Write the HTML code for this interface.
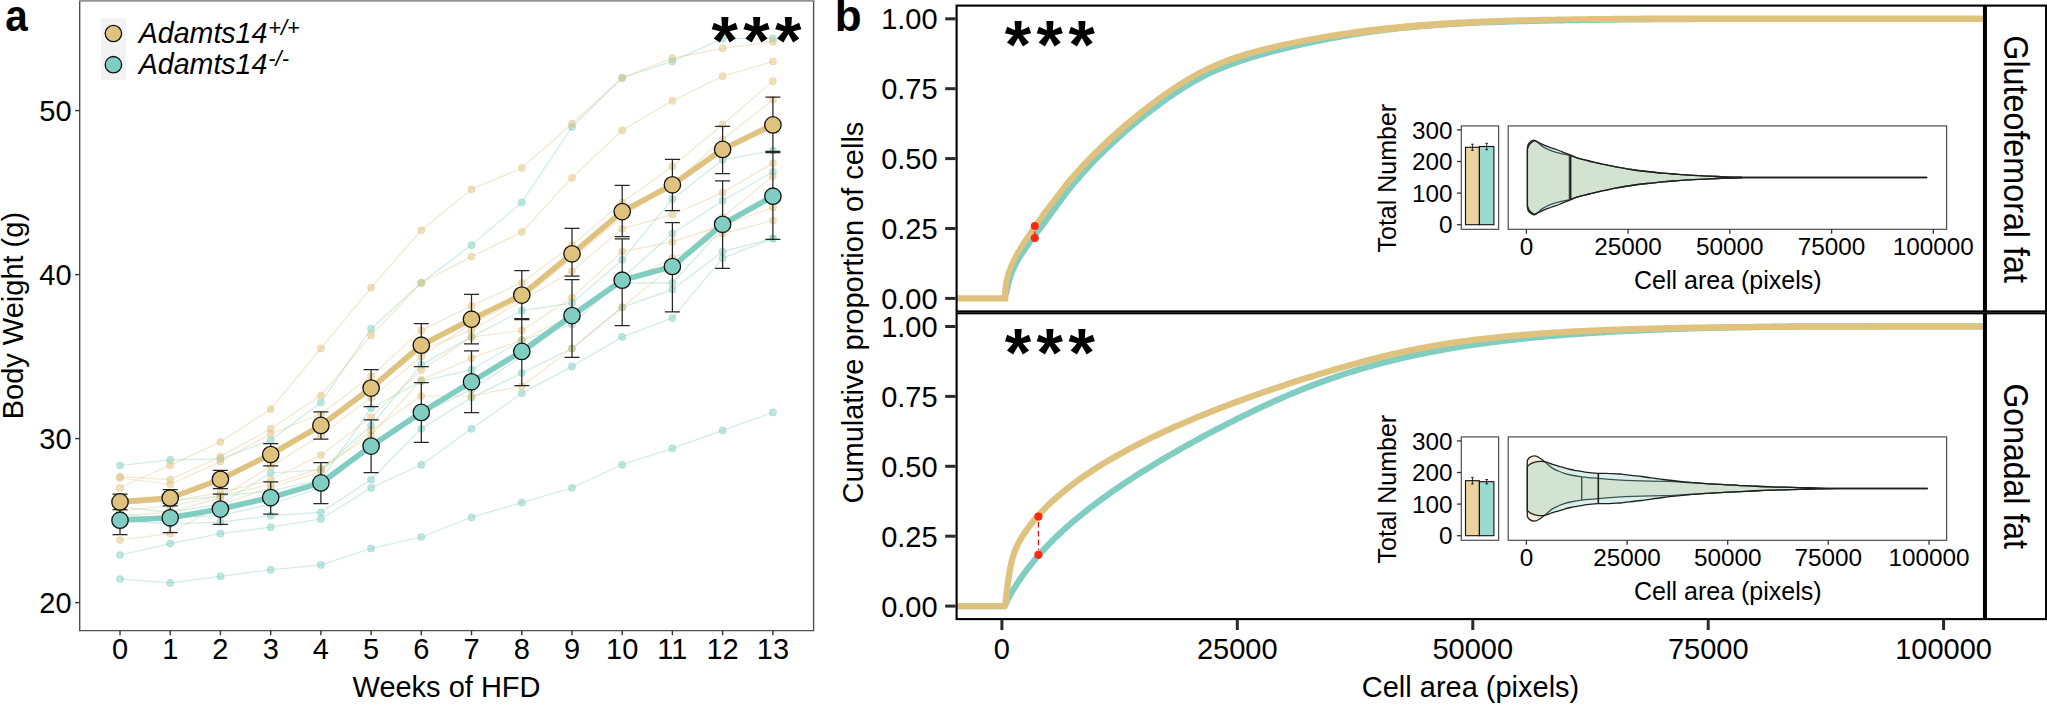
<!DOCTYPE html>
<html lang="en"><head><meta charset="utf-8"><title>Figure</title>
<style>html,body{margin:0;padding:0;background:#fff;}body{width:2047px;height:705px;overflow:hidden;}svg{display:block;}</style>
</head><body>
<svg width="2047" height="705" viewBox="0 0 2047 705" font-family="'Liberation Sans', sans-serif">
<rect width="2047" height="705" fill="#fff"/>
<g id="panelA">
<path d="M79.7,0V630.6H813.6V0" fill="none" stroke="#505050" stroke-width="1.4"/>
<rect x="79" y="0" width="735.3" height="1.75" fill="#959595"/>
<path d="M120.0,465.5 L170.2,459.9 L220.4,458.8 L270.7,440.2 L320.9,402.5 L371.1,328.7 L421.3,282.8 L471.5,245.1 L521.8,202.4 L572.0,127.0 L622.2,77.8 L672.4,61.4 L722.6,38.4 L772.9,38.4" fill="none" stroke="#80CDC1" stroke-opacity="0.38" stroke-width="1.2"/>
<circle cx="120.0" cy="465.5" r="3.6" fill="#80CDC1" fill-opacity="0.5" stroke="#80CDC1" stroke-opacity="0.4" stroke-width="0.9"/>
<circle cx="170.2" cy="459.9" r="3.6" fill="#80CDC1" fill-opacity="0.5" stroke="#80CDC1" stroke-opacity="0.4" stroke-width="0.9"/>
<circle cx="220.4" cy="458.8" r="3.6" fill="#80CDC1" fill-opacity="0.5" stroke="#80CDC1" stroke-opacity="0.4" stroke-width="0.9"/>
<circle cx="270.7" cy="440.2" r="3.6" fill="#80CDC1" fill-opacity="0.5" stroke="#80CDC1" stroke-opacity="0.4" stroke-width="0.9"/>
<circle cx="320.9" cy="402.5" r="3.6" fill="#80CDC1" fill-opacity="0.5" stroke="#80CDC1" stroke-opacity="0.4" stroke-width="0.9"/>
<circle cx="371.1" cy="328.7" r="3.6" fill="#80CDC1" fill-opacity="0.5" stroke="#80CDC1" stroke-opacity="0.4" stroke-width="0.9"/>
<circle cx="421.3" cy="282.8" r="3.6" fill="#80CDC1" fill-opacity="0.5" stroke="#80CDC1" stroke-opacity="0.4" stroke-width="0.9"/>
<circle cx="471.5" cy="245.1" r="3.6" fill="#80CDC1" fill-opacity="0.5" stroke="#80CDC1" stroke-opacity="0.4" stroke-width="0.9"/>
<circle cx="521.8" cy="202.4" r="3.6" fill="#80CDC1" fill-opacity="0.5" stroke="#80CDC1" stroke-opacity="0.4" stroke-width="0.9"/>
<circle cx="572.0" cy="127.0" r="3.6" fill="#80CDC1" fill-opacity="0.5" stroke="#80CDC1" stroke-opacity="0.4" stroke-width="0.9"/>
<circle cx="622.2" cy="77.8" r="3.6" fill="#80CDC1" fill-opacity="0.5" stroke="#80CDC1" stroke-opacity="0.4" stroke-width="0.9"/>
<circle cx="672.4" cy="61.4" r="3.6" fill="#80CDC1" fill-opacity="0.5" stroke="#80CDC1" stroke-opacity="0.4" stroke-width="0.9"/>
<circle cx="722.6" cy="38.4" r="3.6" fill="#80CDC1" fill-opacity="0.5" stroke="#80CDC1" stroke-opacity="0.4" stroke-width="0.9"/>
<circle cx="772.9" cy="38.4" r="3.6" fill="#80CDC1" fill-opacity="0.5" stroke="#80CDC1" stroke-opacity="0.4" stroke-width="0.9"/>
<path d="M120.0,507.0 L170.2,512.4 L220.4,504.2 L270.7,473.0 L320.9,469.8 L371.1,425.5 L421.3,364.8 L471.5,336.9 L521.8,310.7 L572.0,303.1 L622.2,259.8 L672.4,199.2 L722.6,159.8 L772.9,150.5" fill="none" stroke="#80CDC1" stroke-opacity="0.38" stroke-width="1.2"/>
<circle cx="120.0" cy="507.0" r="3.6" fill="#80CDC1" fill-opacity="0.5" stroke="#80CDC1" stroke-opacity="0.4" stroke-width="0.9"/>
<circle cx="170.2" cy="512.4" r="3.6" fill="#80CDC1" fill-opacity="0.5" stroke="#80CDC1" stroke-opacity="0.4" stroke-width="0.9"/>
<circle cx="220.4" cy="504.2" r="3.6" fill="#80CDC1" fill-opacity="0.5" stroke="#80CDC1" stroke-opacity="0.4" stroke-width="0.9"/>
<circle cx="270.7" cy="473.0" r="3.6" fill="#80CDC1" fill-opacity="0.5" stroke="#80CDC1" stroke-opacity="0.4" stroke-width="0.9"/>
<circle cx="320.9" cy="469.8" r="3.6" fill="#80CDC1" fill-opacity="0.5" stroke="#80CDC1" stroke-opacity="0.4" stroke-width="0.9"/>
<circle cx="371.1" cy="425.5" r="3.6" fill="#80CDC1" fill-opacity="0.5" stroke="#80CDC1" stroke-opacity="0.4" stroke-width="0.9"/>
<circle cx="421.3" cy="364.8" r="3.6" fill="#80CDC1" fill-opacity="0.5" stroke="#80CDC1" stroke-opacity="0.4" stroke-width="0.9"/>
<circle cx="471.5" cy="336.9" r="3.6" fill="#80CDC1" fill-opacity="0.5" stroke="#80CDC1" stroke-opacity="0.4" stroke-width="0.9"/>
<circle cx="521.8" cy="310.7" r="3.6" fill="#80CDC1" fill-opacity="0.5" stroke="#80CDC1" stroke-opacity="0.4" stroke-width="0.9"/>
<circle cx="572.0" cy="303.1" r="3.6" fill="#80CDC1" fill-opacity="0.5" stroke="#80CDC1" stroke-opacity="0.4" stroke-width="0.9"/>
<circle cx="622.2" cy="259.8" r="3.6" fill="#80CDC1" fill-opacity="0.5" stroke="#80CDC1" stroke-opacity="0.4" stroke-width="0.9"/>
<circle cx="672.4" cy="199.2" r="3.6" fill="#80CDC1" fill-opacity="0.5" stroke="#80CDC1" stroke-opacity="0.4" stroke-width="0.9"/>
<circle cx="722.6" cy="159.8" r="3.6" fill="#80CDC1" fill-opacity="0.5" stroke="#80CDC1" stroke-opacity="0.4" stroke-width="0.9"/>
<circle cx="772.9" cy="150.5" r="3.6" fill="#80CDC1" fill-opacity="0.5" stroke="#80CDC1" stroke-opacity="0.4" stroke-width="0.9"/>
<path d="M120.0,504.2 L170.2,500.9 L220.4,496.0 L270.7,491.1 L320.9,479.6 L371.1,408.3 L421.3,381.2 L471.5,369.7 L521.8,340.2 L572.0,324.5 L622.2,277.9 L672.4,233.6 L722.6,200.8 L772.9,171.8" fill="none" stroke="#80CDC1" stroke-opacity="0.38" stroke-width="1.2"/>
<circle cx="120.0" cy="504.2" r="3.6" fill="#80CDC1" fill-opacity="0.5" stroke="#80CDC1" stroke-opacity="0.4" stroke-width="0.9"/>
<circle cx="170.2" cy="500.9" r="3.6" fill="#80CDC1" fill-opacity="0.5" stroke="#80CDC1" stroke-opacity="0.4" stroke-width="0.9"/>
<circle cx="220.4" cy="496.0" r="3.6" fill="#80CDC1" fill-opacity="0.5" stroke="#80CDC1" stroke-opacity="0.4" stroke-width="0.9"/>
<circle cx="270.7" cy="491.1" r="3.6" fill="#80CDC1" fill-opacity="0.5" stroke="#80CDC1" stroke-opacity="0.4" stroke-width="0.9"/>
<circle cx="320.9" cy="479.6" r="3.6" fill="#80CDC1" fill-opacity="0.5" stroke="#80CDC1" stroke-opacity="0.4" stroke-width="0.9"/>
<circle cx="371.1" cy="408.3" r="3.6" fill="#80CDC1" fill-opacity="0.5" stroke="#80CDC1" stroke-opacity="0.4" stroke-width="0.9"/>
<circle cx="421.3" cy="381.2" r="3.6" fill="#80CDC1" fill-opacity="0.5" stroke="#80CDC1" stroke-opacity="0.4" stroke-width="0.9"/>
<circle cx="471.5" cy="369.7" r="3.6" fill="#80CDC1" fill-opacity="0.5" stroke="#80CDC1" stroke-opacity="0.4" stroke-width="0.9"/>
<circle cx="521.8" cy="340.2" r="3.6" fill="#80CDC1" fill-opacity="0.5" stroke="#80CDC1" stroke-opacity="0.4" stroke-width="0.9"/>
<circle cx="572.0" cy="324.5" r="3.6" fill="#80CDC1" fill-opacity="0.5" stroke="#80CDC1" stroke-opacity="0.4" stroke-width="0.9"/>
<circle cx="622.2" cy="277.9" r="3.6" fill="#80CDC1" fill-opacity="0.5" stroke="#80CDC1" stroke-opacity="0.4" stroke-width="0.9"/>
<circle cx="672.4" cy="233.6" r="3.6" fill="#80CDC1" fill-opacity="0.5" stroke="#80CDC1" stroke-opacity="0.4" stroke-width="0.9"/>
<circle cx="722.6" cy="200.8" r="3.6" fill="#80CDC1" fill-opacity="0.5" stroke="#80CDC1" stroke-opacity="0.4" stroke-width="0.9"/>
<circle cx="772.9" cy="171.8" r="3.6" fill="#80CDC1" fill-opacity="0.5" stroke="#80CDC1" stroke-opacity="0.4" stroke-width="0.9"/>
<path d="M120.0,515.7 L170.2,517.3 L220.4,515.7 L270.7,504.2 L320.9,487.8 L371.1,446.8 L421.3,414.0 L471.5,389.4 L521.8,356.6 L572.0,315.6 L622.2,282.8 L672.4,282.8 L722.6,228.7 L772.9,192.6" fill="none" stroke="#80CDC1" stroke-opacity="0.38" stroke-width="1.2"/>
<circle cx="120.0" cy="515.7" r="3.6" fill="#80CDC1" fill-opacity="0.5" stroke="#80CDC1" stroke-opacity="0.4" stroke-width="0.9"/>
<circle cx="170.2" cy="517.3" r="3.6" fill="#80CDC1" fill-opacity="0.5" stroke="#80CDC1" stroke-opacity="0.4" stroke-width="0.9"/>
<circle cx="220.4" cy="515.7" r="3.6" fill="#80CDC1" fill-opacity="0.5" stroke="#80CDC1" stroke-opacity="0.4" stroke-width="0.9"/>
<circle cx="270.7" cy="504.2" r="3.6" fill="#80CDC1" fill-opacity="0.5" stroke="#80CDC1" stroke-opacity="0.4" stroke-width="0.9"/>
<circle cx="320.9" cy="487.8" r="3.6" fill="#80CDC1" fill-opacity="0.5" stroke="#80CDC1" stroke-opacity="0.4" stroke-width="0.9"/>
<circle cx="371.1" cy="446.8" r="3.6" fill="#80CDC1" fill-opacity="0.5" stroke="#80CDC1" stroke-opacity="0.4" stroke-width="0.9"/>
<circle cx="421.3" cy="414.0" r="3.6" fill="#80CDC1" fill-opacity="0.5" stroke="#80CDC1" stroke-opacity="0.4" stroke-width="0.9"/>
<circle cx="471.5" cy="389.4" r="3.6" fill="#80CDC1" fill-opacity="0.5" stroke="#80CDC1" stroke-opacity="0.4" stroke-width="0.9"/>
<circle cx="521.8" cy="356.6" r="3.6" fill="#80CDC1" fill-opacity="0.5" stroke="#80CDC1" stroke-opacity="0.4" stroke-width="0.9"/>
<circle cx="572.0" cy="315.6" r="3.6" fill="#80CDC1" fill-opacity="0.5" stroke="#80CDC1" stroke-opacity="0.4" stroke-width="0.9"/>
<circle cx="622.2" cy="282.8" r="3.6" fill="#80CDC1" fill-opacity="0.5" stroke="#80CDC1" stroke-opacity="0.4" stroke-width="0.9"/>
<circle cx="672.4" cy="282.8" r="3.6" fill="#80CDC1" fill-opacity="0.5" stroke="#80CDC1" stroke-opacity="0.4" stroke-width="0.9"/>
<circle cx="722.6" cy="228.7" r="3.6" fill="#80CDC1" fill-opacity="0.5" stroke="#80CDC1" stroke-opacity="0.4" stroke-width="0.9"/>
<circle cx="772.9" cy="192.6" r="3.6" fill="#80CDC1" fill-opacity="0.5" stroke="#80CDC1" stroke-opacity="0.4" stroke-width="0.9"/>
<path d="M120.0,520.6 L170.2,523.9 L220.4,522.2 L270.7,515.7 L320.9,512.4 L371.1,479.6 L421.3,428.8 L471.5,397.6 L521.8,373.0 L572.0,348.4 L622.2,307.4 L672.4,289.4 L722.6,251.6 L772.9,238.5" fill="none" stroke="#80CDC1" stroke-opacity="0.38" stroke-width="1.2"/>
<circle cx="120.0" cy="520.6" r="3.6" fill="#80CDC1" fill-opacity="0.5" stroke="#80CDC1" stroke-opacity="0.4" stroke-width="0.9"/>
<circle cx="170.2" cy="523.9" r="3.6" fill="#80CDC1" fill-opacity="0.5" stroke="#80CDC1" stroke-opacity="0.4" stroke-width="0.9"/>
<circle cx="220.4" cy="522.2" r="3.6" fill="#80CDC1" fill-opacity="0.5" stroke="#80CDC1" stroke-opacity="0.4" stroke-width="0.9"/>
<circle cx="270.7" cy="515.7" r="3.6" fill="#80CDC1" fill-opacity="0.5" stroke="#80CDC1" stroke-opacity="0.4" stroke-width="0.9"/>
<circle cx="320.9" cy="512.4" r="3.6" fill="#80CDC1" fill-opacity="0.5" stroke="#80CDC1" stroke-opacity="0.4" stroke-width="0.9"/>
<circle cx="371.1" cy="479.6" r="3.6" fill="#80CDC1" fill-opacity="0.5" stroke="#80CDC1" stroke-opacity="0.4" stroke-width="0.9"/>
<circle cx="421.3" cy="428.8" r="3.6" fill="#80CDC1" fill-opacity="0.5" stroke="#80CDC1" stroke-opacity="0.4" stroke-width="0.9"/>
<circle cx="471.5" cy="397.6" r="3.6" fill="#80CDC1" fill-opacity="0.5" stroke="#80CDC1" stroke-opacity="0.4" stroke-width="0.9"/>
<circle cx="521.8" cy="373.0" r="3.6" fill="#80CDC1" fill-opacity="0.5" stroke="#80CDC1" stroke-opacity="0.4" stroke-width="0.9"/>
<circle cx="572.0" cy="348.4" r="3.6" fill="#80CDC1" fill-opacity="0.5" stroke="#80CDC1" stroke-opacity="0.4" stroke-width="0.9"/>
<circle cx="622.2" cy="307.4" r="3.6" fill="#80CDC1" fill-opacity="0.5" stroke="#80CDC1" stroke-opacity="0.4" stroke-width="0.9"/>
<circle cx="672.4" cy="289.4" r="3.6" fill="#80CDC1" fill-opacity="0.5" stroke="#80CDC1" stroke-opacity="0.4" stroke-width="0.9"/>
<circle cx="722.6" cy="251.6" r="3.6" fill="#80CDC1" fill-opacity="0.5" stroke="#80CDC1" stroke-opacity="0.4" stroke-width="0.9"/>
<circle cx="772.9" cy="238.5" r="3.6" fill="#80CDC1" fill-opacity="0.5" stroke="#80CDC1" stroke-opacity="0.4" stroke-width="0.9"/>
<path d="M120.0,555.0 L170.2,543.6 L220.4,533.7 L270.7,527.2 L320.9,519.0 L371.1,487.8 L421.3,464.8 L471.5,428.8 L521.8,393.2 L572.0,366.4 L622.2,336.9 L672.4,318.1 L722.6,258.2 L772.9,238.5" fill="none" stroke="#80CDC1" stroke-opacity="0.38" stroke-width="1.2"/>
<circle cx="120.0" cy="555.0" r="3.6" fill="#80CDC1" fill-opacity="0.5" stroke="#80CDC1" stroke-opacity="0.4" stroke-width="0.9"/>
<circle cx="170.2" cy="543.6" r="3.6" fill="#80CDC1" fill-opacity="0.5" stroke="#80CDC1" stroke-opacity="0.4" stroke-width="0.9"/>
<circle cx="220.4" cy="533.7" r="3.6" fill="#80CDC1" fill-opacity="0.5" stroke="#80CDC1" stroke-opacity="0.4" stroke-width="0.9"/>
<circle cx="270.7" cy="527.2" r="3.6" fill="#80CDC1" fill-opacity="0.5" stroke="#80CDC1" stroke-opacity="0.4" stroke-width="0.9"/>
<circle cx="320.9" cy="519.0" r="3.6" fill="#80CDC1" fill-opacity="0.5" stroke="#80CDC1" stroke-opacity="0.4" stroke-width="0.9"/>
<circle cx="371.1" cy="487.8" r="3.6" fill="#80CDC1" fill-opacity="0.5" stroke="#80CDC1" stroke-opacity="0.4" stroke-width="0.9"/>
<circle cx="421.3" cy="464.8" r="3.6" fill="#80CDC1" fill-opacity="0.5" stroke="#80CDC1" stroke-opacity="0.4" stroke-width="0.9"/>
<circle cx="471.5" cy="428.8" r="3.6" fill="#80CDC1" fill-opacity="0.5" stroke="#80CDC1" stroke-opacity="0.4" stroke-width="0.9"/>
<circle cx="521.8" cy="393.2" r="3.6" fill="#80CDC1" fill-opacity="0.5" stroke="#80CDC1" stroke-opacity="0.4" stroke-width="0.9"/>
<circle cx="572.0" cy="366.4" r="3.6" fill="#80CDC1" fill-opacity="0.5" stroke="#80CDC1" stroke-opacity="0.4" stroke-width="0.9"/>
<circle cx="622.2" cy="336.9" r="3.6" fill="#80CDC1" fill-opacity="0.5" stroke="#80CDC1" stroke-opacity="0.4" stroke-width="0.9"/>
<circle cx="672.4" cy="318.1" r="3.6" fill="#80CDC1" fill-opacity="0.5" stroke="#80CDC1" stroke-opacity="0.4" stroke-width="0.9"/>
<circle cx="722.6" cy="258.2" r="3.6" fill="#80CDC1" fill-opacity="0.5" stroke="#80CDC1" stroke-opacity="0.4" stroke-width="0.9"/>
<circle cx="772.9" cy="238.5" r="3.6" fill="#80CDC1" fill-opacity="0.5" stroke="#80CDC1" stroke-opacity="0.4" stroke-width="0.9"/>
<path d="M120.0,579.0 L170.2,582.9 L220.4,576.4 L270.7,569.8 L320.9,564.9 L371.1,548.5 L421.3,537.0 L471.5,517.3 L521.8,502.6 L572.0,487.8 L622.2,464.8 L672.4,448.4 L722.6,430.4 L772.9,412.4" fill="none" stroke="#80CDC1" stroke-opacity="0.38" stroke-width="1.2"/>
<circle cx="120.0" cy="579.0" r="3.6" fill="#80CDC1" fill-opacity="0.5" stroke="#80CDC1" stroke-opacity="0.4" stroke-width="0.9"/>
<circle cx="170.2" cy="582.9" r="3.6" fill="#80CDC1" fill-opacity="0.5" stroke="#80CDC1" stroke-opacity="0.4" stroke-width="0.9"/>
<circle cx="220.4" cy="576.4" r="3.6" fill="#80CDC1" fill-opacity="0.5" stroke="#80CDC1" stroke-opacity="0.4" stroke-width="0.9"/>
<circle cx="270.7" cy="569.8" r="3.6" fill="#80CDC1" fill-opacity="0.5" stroke="#80CDC1" stroke-opacity="0.4" stroke-width="0.9"/>
<circle cx="320.9" cy="564.9" r="3.6" fill="#80CDC1" fill-opacity="0.5" stroke="#80CDC1" stroke-opacity="0.4" stroke-width="0.9"/>
<circle cx="371.1" cy="548.5" r="3.6" fill="#80CDC1" fill-opacity="0.5" stroke="#80CDC1" stroke-opacity="0.4" stroke-width="0.9"/>
<circle cx="421.3" cy="537.0" r="3.6" fill="#80CDC1" fill-opacity="0.5" stroke="#80CDC1" stroke-opacity="0.4" stroke-width="0.9"/>
<circle cx="471.5" cy="517.3" r="3.6" fill="#80CDC1" fill-opacity="0.5" stroke="#80CDC1" stroke-opacity="0.4" stroke-width="0.9"/>
<circle cx="521.8" cy="502.6" r="3.6" fill="#80CDC1" fill-opacity="0.5" stroke="#80CDC1" stroke-opacity="0.4" stroke-width="0.9"/>
<circle cx="572.0" cy="487.8" r="3.6" fill="#80CDC1" fill-opacity="0.5" stroke="#80CDC1" stroke-opacity="0.4" stroke-width="0.9"/>
<circle cx="622.2" cy="464.8" r="3.6" fill="#80CDC1" fill-opacity="0.5" stroke="#80CDC1" stroke-opacity="0.4" stroke-width="0.9"/>
<circle cx="672.4" cy="448.4" r="3.6" fill="#80CDC1" fill-opacity="0.5" stroke="#80CDC1" stroke-opacity="0.4" stroke-width="0.9"/>
<circle cx="722.6" cy="430.4" r="3.6" fill="#80CDC1" fill-opacity="0.5" stroke="#80CDC1" stroke-opacity="0.4" stroke-width="0.9"/>
<circle cx="772.9" cy="412.4" r="3.6" fill="#80CDC1" fill-opacity="0.5" stroke="#80CDC1" stroke-opacity="0.4" stroke-width="0.9"/>
<path d="M120.0,487.8 L170.2,465.2 L220.4,441.9 L270.7,409.2 L320.9,348.4 L371.1,287.7 L421.3,230.3 L471.5,189.3 L521.8,168.0 L572.0,123.7 L622.2,77.8 L672.4,58.1 L722.6,48.3 L772.9,41.7" fill="none" stroke="#DFC27D" stroke-opacity="0.38" stroke-width="1.2"/>
<circle cx="120.0" cy="487.8" r="3.6" fill="#DFC27D" fill-opacity="0.5" stroke="#DFC27D" stroke-opacity="0.4" stroke-width="0.9"/>
<circle cx="170.2" cy="465.2" r="3.6" fill="#DFC27D" fill-opacity="0.5" stroke="#DFC27D" stroke-opacity="0.4" stroke-width="0.9"/>
<circle cx="220.4" cy="441.9" r="3.6" fill="#DFC27D" fill-opacity="0.5" stroke="#DFC27D" stroke-opacity="0.4" stroke-width="0.9"/>
<circle cx="270.7" cy="409.2" r="3.6" fill="#DFC27D" fill-opacity="0.5" stroke="#DFC27D" stroke-opacity="0.4" stroke-width="0.9"/>
<circle cx="320.9" cy="348.4" r="3.6" fill="#DFC27D" fill-opacity="0.5" stroke="#DFC27D" stroke-opacity="0.4" stroke-width="0.9"/>
<circle cx="371.1" cy="287.7" r="3.6" fill="#DFC27D" fill-opacity="0.5" stroke="#DFC27D" stroke-opacity="0.4" stroke-width="0.9"/>
<circle cx="421.3" cy="230.3" r="3.6" fill="#DFC27D" fill-opacity="0.5" stroke="#DFC27D" stroke-opacity="0.4" stroke-width="0.9"/>
<circle cx="471.5" cy="189.3" r="3.6" fill="#DFC27D" fill-opacity="0.5" stroke="#DFC27D" stroke-opacity="0.4" stroke-width="0.9"/>
<circle cx="521.8" cy="168.0" r="3.6" fill="#DFC27D" fill-opacity="0.5" stroke="#DFC27D" stroke-opacity="0.4" stroke-width="0.9"/>
<circle cx="572.0" cy="123.7" r="3.6" fill="#DFC27D" fill-opacity="0.5" stroke="#DFC27D" stroke-opacity="0.4" stroke-width="0.9"/>
<circle cx="622.2" cy="77.8" r="3.6" fill="#DFC27D" fill-opacity="0.5" stroke="#DFC27D" stroke-opacity="0.4" stroke-width="0.9"/>
<circle cx="672.4" cy="58.1" r="3.6" fill="#DFC27D" fill-opacity="0.5" stroke="#DFC27D" stroke-opacity="0.4" stroke-width="0.9"/>
<circle cx="722.6" cy="48.3" r="3.6" fill="#DFC27D" fill-opacity="0.5" stroke="#DFC27D" stroke-opacity="0.4" stroke-width="0.9"/>
<circle cx="772.9" cy="41.7" r="3.6" fill="#DFC27D" fill-opacity="0.5" stroke="#DFC27D" stroke-opacity="0.4" stroke-width="0.9"/>
<path d="M120.0,476.6 L170.2,479.6 L220.4,456.6 L270.7,428.6 L320.9,395.5 L371.1,335.3 L421.3,282.8 L471.5,256.6 L521.8,232.0 L572.0,177.8 L622.2,130.3 L672.4,100.8 L722.6,76.2 L772.9,61.4" fill="none" stroke="#DFC27D" stroke-opacity="0.38" stroke-width="1.2"/>
<circle cx="120.0" cy="476.6" r="3.6" fill="#DFC27D" fill-opacity="0.5" stroke="#DFC27D" stroke-opacity="0.4" stroke-width="0.9"/>
<circle cx="170.2" cy="479.6" r="3.6" fill="#DFC27D" fill-opacity="0.5" stroke="#DFC27D" stroke-opacity="0.4" stroke-width="0.9"/>
<circle cx="220.4" cy="456.6" r="3.6" fill="#DFC27D" fill-opacity="0.5" stroke="#DFC27D" stroke-opacity="0.4" stroke-width="0.9"/>
<circle cx="270.7" cy="428.6" r="3.6" fill="#DFC27D" fill-opacity="0.5" stroke="#DFC27D" stroke-opacity="0.4" stroke-width="0.9"/>
<circle cx="320.9" cy="395.5" r="3.6" fill="#DFC27D" fill-opacity="0.5" stroke="#DFC27D" stroke-opacity="0.4" stroke-width="0.9"/>
<circle cx="371.1" cy="335.3" r="3.6" fill="#DFC27D" fill-opacity="0.5" stroke="#DFC27D" stroke-opacity="0.4" stroke-width="0.9"/>
<circle cx="421.3" cy="282.8" r="3.6" fill="#DFC27D" fill-opacity="0.5" stroke="#DFC27D" stroke-opacity="0.4" stroke-width="0.9"/>
<circle cx="471.5" cy="256.6" r="3.6" fill="#DFC27D" fill-opacity="0.5" stroke="#DFC27D" stroke-opacity="0.4" stroke-width="0.9"/>
<circle cx="521.8" cy="232.0" r="3.6" fill="#DFC27D" fill-opacity="0.5" stroke="#DFC27D" stroke-opacity="0.4" stroke-width="0.9"/>
<circle cx="572.0" cy="177.8" r="3.6" fill="#DFC27D" fill-opacity="0.5" stroke="#DFC27D" stroke-opacity="0.4" stroke-width="0.9"/>
<circle cx="622.2" cy="130.3" r="3.6" fill="#DFC27D" fill-opacity="0.5" stroke="#DFC27D" stroke-opacity="0.4" stroke-width="0.9"/>
<circle cx="672.4" cy="100.8" r="3.6" fill="#DFC27D" fill-opacity="0.5" stroke="#DFC27D" stroke-opacity="0.4" stroke-width="0.9"/>
<circle cx="722.6" cy="76.2" r="3.6" fill="#DFC27D" fill-opacity="0.5" stroke="#DFC27D" stroke-opacity="0.4" stroke-width="0.9"/>
<circle cx="772.9" cy="61.4" r="3.6" fill="#DFC27D" fill-opacity="0.5" stroke="#DFC27D" stroke-opacity="0.4" stroke-width="0.9"/>
<path d="M120.0,478.0 L170.2,484.5 L220.4,461.6 L270.7,433.7 L320.9,414.0 L371.1,376.3 L421.3,330.4 L471.5,305.8 L521.8,282.8 L572.0,245.1 L622.2,202.4 L672.4,166.4 L722.6,124.5 L772.9,81.1" fill="none" stroke="#DFC27D" stroke-opacity="0.38" stroke-width="1.2"/>
<circle cx="120.0" cy="478.0" r="3.6" fill="#DFC27D" fill-opacity="0.5" stroke="#DFC27D" stroke-opacity="0.4" stroke-width="0.9"/>
<circle cx="170.2" cy="484.5" r="3.6" fill="#DFC27D" fill-opacity="0.5" stroke="#DFC27D" stroke-opacity="0.4" stroke-width="0.9"/>
<circle cx="220.4" cy="461.6" r="3.6" fill="#DFC27D" fill-opacity="0.5" stroke="#DFC27D" stroke-opacity="0.4" stroke-width="0.9"/>
<circle cx="270.7" cy="433.7" r="3.6" fill="#DFC27D" fill-opacity="0.5" stroke="#DFC27D" stroke-opacity="0.4" stroke-width="0.9"/>
<circle cx="320.9" cy="414.0" r="3.6" fill="#DFC27D" fill-opacity="0.5" stroke="#DFC27D" stroke-opacity="0.4" stroke-width="0.9"/>
<circle cx="371.1" cy="376.3" r="3.6" fill="#DFC27D" fill-opacity="0.5" stroke="#DFC27D" stroke-opacity="0.4" stroke-width="0.9"/>
<circle cx="421.3" cy="330.4" r="3.6" fill="#DFC27D" fill-opacity="0.5" stroke="#DFC27D" stroke-opacity="0.4" stroke-width="0.9"/>
<circle cx="471.5" cy="305.8" r="3.6" fill="#DFC27D" fill-opacity="0.5" stroke="#DFC27D" stroke-opacity="0.4" stroke-width="0.9"/>
<circle cx="521.8" cy="282.8" r="3.6" fill="#DFC27D" fill-opacity="0.5" stroke="#DFC27D" stroke-opacity="0.4" stroke-width="0.9"/>
<circle cx="572.0" cy="245.1" r="3.6" fill="#DFC27D" fill-opacity="0.5" stroke="#DFC27D" stroke-opacity="0.4" stroke-width="0.9"/>
<circle cx="622.2" cy="202.4" r="3.6" fill="#DFC27D" fill-opacity="0.5" stroke="#DFC27D" stroke-opacity="0.4" stroke-width="0.9"/>
<circle cx="672.4" cy="166.4" r="3.6" fill="#DFC27D" fill-opacity="0.5" stroke="#DFC27D" stroke-opacity="0.4" stroke-width="0.9"/>
<circle cx="722.6" cy="124.5" r="3.6" fill="#DFC27D" fill-opacity="0.5" stroke="#DFC27D" stroke-opacity="0.4" stroke-width="0.9"/>
<circle cx="772.9" cy="81.1" r="3.6" fill="#DFC27D" fill-opacity="0.5" stroke="#DFC27D" stroke-opacity="0.4" stroke-width="0.9"/>
<path d="M120.0,500.9 L170.2,496.0 L220.4,478.0 L270.7,455.0 L320.9,428.8 L371.1,389.4 L421.3,350.0 L471.5,330.4 L521.8,300.8 L572.0,271.3 L622.2,228.7 L672.4,214.7 L722.6,192.6 L772.9,163.1" fill="none" stroke="#DFC27D" stroke-opacity="0.38" stroke-width="1.2"/>
<circle cx="120.0" cy="500.9" r="3.6" fill="#DFC27D" fill-opacity="0.5" stroke="#DFC27D" stroke-opacity="0.4" stroke-width="0.9"/>
<circle cx="170.2" cy="496.0" r="3.6" fill="#DFC27D" fill-opacity="0.5" stroke="#DFC27D" stroke-opacity="0.4" stroke-width="0.9"/>
<circle cx="220.4" cy="478.0" r="3.6" fill="#DFC27D" fill-opacity="0.5" stroke="#DFC27D" stroke-opacity="0.4" stroke-width="0.9"/>
<circle cx="270.7" cy="455.0" r="3.6" fill="#DFC27D" fill-opacity="0.5" stroke="#DFC27D" stroke-opacity="0.4" stroke-width="0.9"/>
<circle cx="320.9" cy="428.8" r="3.6" fill="#DFC27D" fill-opacity="0.5" stroke="#DFC27D" stroke-opacity="0.4" stroke-width="0.9"/>
<circle cx="371.1" cy="389.4" r="3.6" fill="#DFC27D" fill-opacity="0.5" stroke="#DFC27D" stroke-opacity="0.4" stroke-width="0.9"/>
<circle cx="421.3" cy="350.0" r="3.6" fill="#DFC27D" fill-opacity="0.5" stroke="#DFC27D" stroke-opacity="0.4" stroke-width="0.9"/>
<circle cx="471.5" cy="330.4" r="3.6" fill="#DFC27D" fill-opacity="0.5" stroke="#DFC27D" stroke-opacity="0.4" stroke-width="0.9"/>
<circle cx="521.8" cy="300.8" r="3.6" fill="#DFC27D" fill-opacity="0.5" stroke="#DFC27D" stroke-opacity="0.4" stroke-width="0.9"/>
<circle cx="572.0" cy="271.3" r="3.6" fill="#DFC27D" fill-opacity="0.5" stroke="#DFC27D" stroke-opacity="0.4" stroke-width="0.9"/>
<circle cx="622.2" cy="228.7" r="3.6" fill="#DFC27D" fill-opacity="0.5" stroke="#DFC27D" stroke-opacity="0.4" stroke-width="0.9"/>
<circle cx="672.4" cy="214.7" r="3.6" fill="#DFC27D" fill-opacity="0.5" stroke="#DFC27D" stroke-opacity="0.4" stroke-width="0.9"/>
<circle cx="722.6" cy="192.6" r="3.6" fill="#DFC27D" fill-opacity="0.5" stroke="#DFC27D" stroke-opacity="0.4" stroke-width="0.9"/>
<circle cx="772.9" cy="163.1" r="3.6" fill="#DFC27D" fill-opacity="0.5" stroke="#DFC27D" stroke-opacity="0.4" stroke-width="0.9"/>
<path d="M120.0,504.2 L170.2,500.9 L220.4,492.7 L270.7,479.8 L320.9,455.0 L371.1,417.3 L421.3,369.9 L471.5,337.2 L521.8,330.4 L572.0,297.6 L622.2,251.6 L672.4,241.8 L722.6,225.4 L772.9,207.4" fill="none" stroke="#DFC27D" stroke-opacity="0.38" stroke-width="1.2"/>
<circle cx="120.0" cy="504.2" r="3.6" fill="#DFC27D" fill-opacity="0.5" stroke="#DFC27D" stroke-opacity="0.4" stroke-width="0.9"/>
<circle cx="170.2" cy="500.9" r="3.6" fill="#DFC27D" fill-opacity="0.5" stroke="#DFC27D" stroke-opacity="0.4" stroke-width="0.9"/>
<circle cx="220.4" cy="492.7" r="3.6" fill="#DFC27D" fill-opacity="0.5" stroke="#DFC27D" stroke-opacity="0.4" stroke-width="0.9"/>
<circle cx="270.7" cy="479.8" r="3.6" fill="#DFC27D" fill-opacity="0.5" stroke="#DFC27D" stroke-opacity="0.4" stroke-width="0.9"/>
<circle cx="320.9" cy="455.0" r="3.6" fill="#DFC27D" fill-opacity="0.5" stroke="#DFC27D" stroke-opacity="0.4" stroke-width="0.9"/>
<circle cx="371.1" cy="417.3" r="3.6" fill="#DFC27D" fill-opacity="0.5" stroke="#DFC27D" stroke-opacity="0.4" stroke-width="0.9"/>
<circle cx="421.3" cy="369.9" r="3.6" fill="#DFC27D" fill-opacity="0.5" stroke="#DFC27D" stroke-opacity="0.4" stroke-width="0.9"/>
<circle cx="471.5" cy="337.2" r="3.6" fill="#DFC27D" fill-opacity="0.5" stroke="#DFC27D" stroke-opacity="0.4" stroke-width="0.9"/>
<circle cx="521.8" cy="330.4" r="3.6" fill="#DFC27D" fill-opacity="0.5" stroke="#DFC27D" stroke-opacity="0.4" stroke-width="0.9"/>
<circle cx="572.0" cy="297.6" r="3.6" fill="#DFC27D" fill-opacity="0.5" stroke="#DFC27D" stroke-opacity="0.4" stroke-width="0.9"/>
<circle cx="622.2" cy="251.6" r="3.6" fill="#DFC27D" fill-opacity="0.5" stroke="#DFC27D" stroke-opacity="0.4" stroke-width="0.9"/>
<circle cx="672.4" cy="241.8" r="3.6" fill="#DFC27D" fill-opacity="0.5" stroke="#DFC27D" stroke-opacity="0.4" stroke-width="0.9"/>
<circle cx="722.6" cy="225.4" r="3.6" fill="#DFC27D" fill-opacity="0.5" stroke="#DFC27D" stroke-opacity="0.4" stroke-width="0.9"/>
<circle cx="772.9" cy="207.4" r="3.6" fill="#DFC27D" fill-opacity="0.5" stroke="#DFC27D" stroke-opacity="0.4" stroke-width="0.9"/>
<path d="M120.0,510.8 L170.2,505.8 L220.4,496.0 L270.7,484.5 L320.9,468.4 L371.1,435.3 L421.3,379.9 L471.5,358.2 L521.8,340.2 L572.0,315.6 L622.2,282.8 L672.4,258.2 L722.6,233.6 L772.9,220.5" fill="none" stroke="#DFC27D" stroke-opacity="0.38" stroke-width="1.2"/>
<circle cx="120.0" cy="510.8" r="3.6" fill="#DFC27D" fill-opacity="0.5" stroke="#DFC27D" stroke-opacity="0.4" stroke-width="0.9"/>
<circle cx="170.2" cy="505.8" r="3.6" fill="#DFC27D" fill-opacity="0.5" stroke="#DFC27D" stroke-opacity="0.4" stroke-width="0.9"/>
<circle cx="220.4" cy="496.0" r="3.6" fill="#DFC27D" fill-opacity="0.5" stroke="#DFC27D" stroke-opacity="0.4" stroke-width="0.9"/>
<circle cx="270.7" cy="484.5" r="3.6" fill="#DFC27D" fill-opacity="0.5" stroke="#DFC27D" stroke-opacity="0.4" stroke-width="0.9"/>
<circle cx="320.9" cy="468.4" r="3.6" fill="#DFC27D" fill-opacity="0.5" stroke="#DFC27D" stroke-opacity="0.4" stroke-width="0.9"/>
<circle cx="371.1" cy="435.3" r="3.6" fill="#DFC27D" fill-opacity="0.5" stroke="#DFC27D" stroke-opacity="0.4" stroke-width="0.9"/>
<circle cx="421.3" cy="379.9" r="3.6" fill="#DFC27D" fill-opacity="0.5" stroke="#DFC27D" stroke-opacity="0.4" stroke-width="0.9"/>
<circle cx="471.5" cy="358.2" r="3.6" fill="#DFC27D" fill-opacity="0.5" stroke="#DFC27D" stroke-opacity="0.4" stroke-width="0.9"/>
<circle cx="521.8" cy="340.2" r="3.6" fill="#DFC27D" fill-opacity="0.5" stroke="#DFC27D" stroke-opacity="0.4" stroke-width="0.9"/>
<circle cx="572.0" cy="315.6" r="3.6" fill="#DFC27D" fill-opacity="0.5" stroke="#DFC27D" stroke-opacity="0.4" stroke-width="0.9"/>
<circle cx="622.2" cy="282.8" r="3.6" fill="#DFC27D" fill-opacity="0.5" stroke="#DFC27D" stroke-opacity="0.4" stroke-width="0.9"/>
<circle cx="672.4" cy="258.2" r="3.6" fill="#DFC27D" fill-opacity="0.5" stroke="#DFC27D" stroke-opacity="0.4" stroke-width="0.9"/>
<circle cx="722.6" cy="233.6" r="3.6" fill="#DFC27D" fill-opacity="0.5" stroke="#DFC27D" stroke-opacity="0.4" stroke-width="0.9"/>
<circle cx="772.9" cy="220.5" r="3.6" fill="#DFC27D" fill-opacity="0.5" stroke="#DFC27D" stroke-opacity="0.4" stroke-width="0.9"/>
<path d="M120.0,540.0 L170.2,533.7 L220.4,504.2 L270.7,487.8 L320.9,471.4 L371.1,430.4 L421.3,396.0 L471.5,396.0 L521.8,386.1 L572.0,348.4 L622.2,307.4 L672.4,266.4 L722.6,217.2 L772.9,176.2" fill="none" stroke="#DFC27D" stroke-opacity="0.38" stroke-width="1.2"/>
<circle cx="120.0" cy="540.0" r="3.6" fill="#DFC27D" fill-opacity="0.5" stroke="#DFC27D" stroke-opacity="0.4" stroke-width="0.9"/>
<circle cx="170.2" cy="533.7" r="3.6" fill="#DFC27D" fill-opacity="0.5" stroke="#DFC27D" stroke-opacity="0.4" stroke-width="0.9"/>
<circle cx="220.4" cy="504.2" r="3.6" fill="#DFC27D" fill-opacity="0.5" stroke="#DFC27D" stroke-opacity="0.4" stroke-width="0.9"/>
<circle cx="270.7" cy="487.8" r="3.6" fill="#DFC27D" fill-opacity="0.5" stroke="#DFC27D" stroke-opacity="0.4" stroke-width="0.9"/>
<circle cx="320.9" cy="471.4" r="3.6" fill="#DFC27D" fill-opacity="0.5" stroke="#DFC27D" stroke-opacity="0.4" stroke-width="0.9"/>
<circle cx="371.1" cy="430.4" r="3.6" fill="#DFC27D" fill-opacity="0.5" stroke="#DFC27D" stroke-opacity="0.4" stroke-width="0.9"/>
<circle cx="421.3" cy="396.0" r="3.6" fill="#DFC27D" fill-opacity="0.5" stroke="#DFC27D" stroke-opacity="0.4" stroke-width="0.9"/>
<circle cx="471.5" cy="396.0" r="3.6" fill="#DFC27D" fill-opacity="0.5" stroke="#DFC27D" stroke-opacity="0.4" stroke-width="0.9"/>
<circle cx="521.8" cy="386.1" r="3.6" fill="#DFC27D" fill-opacity="0.5" stroke="#DFC27D" stroke-opacity="0.4" stroke-width="0.9"/>
<circle cx="572.0" cy="348.4" r="3.6" fill="#DFC27D" fill-opacity="0.5" stroke="#DFC27D" stroke-opacity="0.4" stroke-width="0.9"/>
<circle cx="622.2" cy="307.4" r="3.6" fill="#DFC27D" fill-opacity="0.5" stroke="#DFC27D" stroke-opacity="0.4" stroke-width="0.9"/>
<circle cx="672.4" cy="266.4" r="3.6" fill="#DFC27D" fill-opacity="0.5" stroke="#DFC27D" stroke-opacity="0.4" stroke-width="0.9"/>
<circle cx="722.6" cy="217.2" r="3.6" fill="#DFC27D" fill-opacity="0.5" stroke="#DFC27D" stroke-opacity="0.4" stroke-width="0.9"/>
<circle cx="772.9" cy="176.2" r="3.6" fill="#DFC27D" fill-opacity="0.5" stroke="#DFC27D" stroke-opacity="0.4" stroke-width="0.9"/>
<path d="M120.0,515.7 L170.2,512.4 L220.4,497.6 L270.7,466.5 L320.9,435.3 L371.1,397.6 L421.3,356.6 L471.5,323.8 L521.8,299.2 L572.0,258.2 L622.2,217.2 L672.4,184.4 L722.6,139.5 L772.9,99.6" fill="none" stroke="#DFC27D" stroke-opacity="0.38" stroke-width="1.2"/>
<circle cx="120.0" cy="515.7" r="3.6" fill="#DFC27D" fill-opacity="0.5" stroke="#DFC27D" stroke-opacity="0.4" stroke-width="0.9"/>
<circle cx="170.2" cy="512.4" r="3.6" fill="#DFC27D" fill-opacity="0.5" stroke="#DFC27D" stroke-opacity="0.4" stroke-width="0.9"/>
<circle cx="220.4" cy="497.6" r="3.6" fill="#DFC27D" fill-opacity="0.5" stroke="#DFC27D" stroke-opacity="0.4" stroke-width="0.9"/>
<circle cx="270.7" cy="466.5" r="3.6" fill="#DFC27D" fill-opacity="0.5" stroke="#DFC27D" stroke-opacity="0.4" stroke-width="0.9"/>
<circle cx="320.9" cy="435.3" r="3.6" fill="#DFC27D" fill-opacity="0.5" stroke="#DFC27D" stroke-opacity="0.4" stroke-width="0.9"/>
<circle cx="371.1" cy="397.6" r="3.6" fill="#DFC27D" fill-opacity="0.5" stroke="#DFC27D" stroke-opacity="0.4" stroke-width="0.9"/>
<circle cx="421.3" cy="356.6" r="3.6" fill="#DFC27D" fill-opacity="0.5" stroke="#DFC27D" stroke-opacity="0.4" stroke-width="0.9"/>
<circle cx="471.5" cy="323.8" r="3.6" fill="#DFC27D" fill-opacity="0.5" stroke="#DFC27D" stroke-opacity="0.4" stroke-width="0.9"/>
<circle cx="521.8" cy="299.2" r="3.6" fill="#DFC27D" fill-opacity="0.5" stroke="#DFC27D" stroke-opacity="0.4" stroke-width="0.9"/>
<circle cx="572.0" cy="258.2" r="3.6" fill="#DFC27D" fill-opacity="0.5" stroke="#DFC27D" stroke-opacity="0.4" stroke-width="0.9"/>
<circle cx="622.2" cy="217.2" r="3.6" fill="#DFC27D" fill-opacity="0.5" stroke="#DFC27D" stroke-opacity="0.4" stroke-width="0.9"/>
<circle cx="672.4" cy="184.4" r="3.6" fill="#DFC27D" fill-opacity="0.5" stroke="#DFC27D" stroke-opacity="0.4" stroke-width="0.9"/>
<circle cx="722.6" cy="139.5" r="3.6" fill="#DFC27D" fill-opacity="0.5" stroke="#DFC27D" stroke-opacity="0.4" stroke-width="0.9"/>
<circle cx="772.9" cy="99.6" r="3.6" fill="#DFC27D" fill-opacity="0.5" stroke="#DFC27D" stroke-opacity="0.4" stroke-width="0.9"/>
<text x="711.4" y="64" font-size="68" font-weight="bold" letter-spacing="5.4" fill="#000">***</text>
<path d="M120.0,520.2 L170.2,517.8 L220.4,509.1 L270.7,497.6 L320.9,482.9 L371.1,446.1 L421.3,412.4 L471.5,381.8 L521.8,351.4 L572.0,315.6 L622.2,280.2 L672.4,266.5 L722.6,224.3 L772.9,196.2" fill="none" stroke="#80CDC1" stroke-width="5.6" stroke-linejoin="round" stroke-linecap="butt"/>
<path d="M120.0,501.9 L170.2,498.0 L220.4,479.3 L270.7,454.5 L320.9,425.4 L371.1,388.1 L421.3,345.2 L471.5,319.2 L521.8,295.1 L572.0,253.8 L622.2,211.6 L672.4,184.8 L722.6,149.4 L772.9,124.9" fill="none" stroke="#DFC27D" stroke-width="5.6" stroke-linejoin="round" stroke-linecap="butt"/>
<path d="M120.0,506.0V534.5M112.5,506.0H127.5M112.5,534.5H127.5" stroke="#262626" stroke-width="1.25" fill="none"/>
<path d="M170.2,503.0V532.5M162.7,503.0H177.7M162.7,532.5H177.7" stroke="#262626" stroke-width="1.25" fill="none"/>
<path d="M220.4,494.2V524.4M212.9,494.2H227.9M212.9,524.4H227.9" stroke="#262626" stroke-width="1.25" fill="none"/>
<path d="M270.7,481.9V514.0M263.2,481.9H278.2M263.2,514.0H278.2" stroke="#262626" stroke-width="1.25" fill="none"/>
<path d="M320.9,462.6V503.6M313.4,462.6H328.4M313.4,503.6H328.4" stroke="#262626" stroke-width="1.25" fill="none"/>
<path d="M371.1,419.8V472.7M363.6,419.8H378.6M363.6,472.7H378.6" stroke="#262626" stroke-width="1.25" fill="none"/>
<path d="M421.3,382.5V442.3M413.8,382.5H428.8M413.8,442.3H428.8" stroke="#262626" stroke-width="1.25" fill="none"/>
<path d="M471.5,350.8V412.7M464.0,350.8H479.0M464.0,412.7H479.0" stroke="#262626" stroke-width="1.25" fill="none"/>
<path d="M521.8,319.7V385.5M514.3,319.7H529.3M514.3,385.5H529.3" stroke="#262626" stroke-width="1.25" fill="none"/>
<path d="M572.0,279.7V357.3M564.5,279.7H579.5M564.5,357.3H579.5" stroke="#262626" stroke-width="1.25" fill="none"/>
<path d="M622.2,238.9V325.5M614.7,238.9H629.7M614.7,325.5H629.7" stroke="#262626" stroke-width="1.25" fill="none"/>
<path d="M672.4,222.5V311.9M664.9,222.5H679.9M664.9,311.9H679.9" stroke="#262626" stroke-width="1.25" fill="none"/>
<path d="M722.6,180.8V268.4M715.1,180.8H730.1M715.1,268.4H730.1" stroke="#262626" stroke-width="1.25" fill="none"/>
<path d="M772.9,151.3V239.3M765.4,151.3H780.4M765.4,239.3H780.4" stroke="#262626" stroke-width="1.25" fill="none"/>
<path d="M120.0,494.0V509.5M112.5,494.0H127.5M112.5,509.5H127.5" stroke="#262626" stroke-width="1.25" fill="none"/>
<path d="M170.2,489.6V505.9M162.7,489.6H177.7M162.7,505.9H177.7" stroke="#262626" stroke-width="1.25" fill="none"/>
<path d="M220.4,470.4V488.6M212.9,470.4H227.9M212.9,488.6H227.9" stroke="#262626" stroke-width="1.25" fill="none"/>
<path d="M270.7,443.6V465.8M263.2,443.6H278.2M263.2,465.8H278.2" stroke="#262626" stroke-width="1.25" fill="none"/>
<path d="M320.9,411.9V439.2M313.4,411.9H328.4M313.4,439.2H328.4" stroke="#262626" stroke-width="1.25" fill="none"/>
<path d="M371.1,369.5V406.5M363.6,369.5H378.6M363.6,406.5H378.6" stroke="#262626" stroke-width="1.25" fill="none"/>
<path d="M421.3,323.5V366.7M413.8,323.5H428.8M413.8,366.7H428.8" stroke="#262626" stroke-width="1.25" fill="none"/>
<path d="M471.5,294.4V343.9M464.0,294.4H479.0M464.0,343.9H479.0" stroke="#262626" stroke-width="1.25" fill="none"/>
<path d="M521.8,270.6V318.6M514.3,270.6H529.3M514.3,318.6H529.3" stroke="#262626" stroke-width="1.25" fill="none"/>
<path d="M572.0,228.4V276.2M564.5,228.4H579.5M564.5,276.2H579.5" stroke="#262626" stroke-width="1.25" fill="none"/>
<path d="M622.2,185.3V236.7M614.7,185.3H629.7M614.7,236.7H629.7" stroke="#262626" stroke-width="1.25" fill="none"/>
<path d="M672.4,159.4V210.7M664.9,159.4H679.9M664.9,210.7H679.9" stroke="#262626" stroke-width="1.25" fill="none"/>
<path d="M722.6,126.3V173.5M715.1,126.3H730.1M715.1,173.5H730.1" stroke="#262626" stroke-width="1.25" fill="none"/>
<path d="M772.9,97.2V152.6M765.4,97.2H780.4M765.4,152.6H780.4" stroke="#262626" stroke-width="1.25" fill="none"/>
<circle cx="120.0" cy="520.2" r="8.2" fill="#80CDC1" stroke="#111" stroke-width="1.3"/>
<circle cx="170.2" cy="517.8" r="8.2" fill="#80CDC1" stroke="#111" stroke-width="1.3"/>
<circle cx="220.4" cy="509.1" r="8.2" fill="#80CDC1" stroke="#111" stroke-width="1.3"/>
<circle cx="270.7" cy="497.6" r="8.2" fill="#80CDC1" stroke="#111" stroke-width="1.3"/>
<circle cx="320.9" cy="482.9" r="8.2" fill="#80CDC1" stroke="#111" stroke-width="1.3"/>
<circle cx="371.1" cy="446.1" r="8.2" fill="#80CDC1" stroke="#111" stroke-width="1.3"/>
<circle cx="421.3" cy="412.4" r="8.2" fill="#80CDC1" stroke="#111" stroke-width="1.3"/>
<circle cx="471.5" cy="381.8" r="8.2" fill="#80CDC1" stroke="#111" stroke-width="1.3"/>
<circle cx="521.8" cy="351.4" r="8.2" fill="#80CDC1" stroke="#111" stroke-width="1.3"/>
<circle cx="572.0" cy="315.6" r="8.2" fill="#80CDC1" stroke="#111" stroke-width="1.3"/>
<circle cx="622.2" cy="280.2" r="8.2" fill="#80CDC1" stroke="#111" stroke-width="1.3"/>
<circle cx="672.4" cy="266.5" r="8.2" fill="#80CDC1" stroke="#111" stroke-width="1.3"/>
<circle cx="722.6" cy="224.3" r="8.2" fill="#80CDC1" stroke="#111" stroke-width="1.3"/>
<circle cx="772.9" cy="196.2" r="8.2" fill="#80CDC1" stroke="#111" stroke-width="1.3"/>
<circle cx="120.0" cy="501.9" r="8.2" fill="#DFC27D" stroke="#111" stroke-width="1.3"/>
<circle cx="170.2" cy="498.0" r="8.2" fill="#DFC27D" stroke="#111" stroke-width="1.3"/>
<circle cx="220.4" cy="479.3" r="8.2" fill="#DFC27D" stroke="#111" stroke-width="1.3"/>
<circle cx="270.7" cy="454.5" r="8.2" fill="#DFC27D" stroke="#111" stroke-width="1.3"/>
<circle cx="320.9" cy="425.4" r="8.2" fill="#DFC27D" stroke="#111" stroke-width="1.3"/>
<circle cx="371.1" cy="388.1" r="8.2" fill="#DFC27D" stroke="#111" stroke-width="1.3"/>
<circle cx="421.3" cy="345.2" r="8.2" fill="#DFC27D" stroke="#111" stroke-width="1.3"/>
<circle cx="471.5" cy="319.2" r="8.2" fill="#DFC27D" stroke="#111" stroke-width="1.3"/>
<circle cx="521.8" cy="295.1" r="8.2" fill="#DFC27D" stroke="#111" stroke-width="1.3"/>
<circle cx="572.0" cy="253.8" r="8.2" fill="#DFC27D" stroke="#111" stroke-width="1.3"/>
<circle cx="622.2" cy="211.6" r="8.2" fill="#DFC27D" stroke="#111" stroke-width="1.3"/>
<circle cx="672.4" cy="184.8" r="8.2" fill="#DFC27D" stroke="#111" stroke-width="1.3"/>
<circle cx="722.6" cy="149.4" r="8.2" fill="#DFC27D" stroke="#111" stroke-width="1.3"/>
<circle cx="772.9" cy="124.9" r="8.2" fill="#DFC27D" stroke="#111" stroke-width="1.3"/>
<path d="M75.1,602.6H79.7" stroke="#333" stroke-width="1.4"/>
<text transform="translate(71.6,613.2) scale(0.973,1)" font-size="29.8" text-anchor="end" fill="#000">20</text>
<path d="M75.1,438.6H79.7" stroke="#333" stroke-width="1.4"/>
<text transform="translate(71.6,449.2) scale(0.973,1)" font-size="29.8" text-anchor="end" fill="#000">30</text>
<path d="M75.1,274.6H79.7" stroke="#333" stroke-width="1.4"/>
<text transform="translate(71.6,285.2) scale(0.973,1)" font-size="29.8" text-anchor="end" fill="#000">40</text>
<path d="M75.1,110.6H79.7" stroke="#333" stroke-width="1.4"/>
<text transform="translate(71.6,121.2) scale(0.973,1)" font-size="29.8" text-anchor="end" fill="#000">50</text>
<path d="M120.0,630.6V635.3" stroke="#333" stroke-width="1.4"/>
<text transform="translate(120.0,659.4) scale(0.973,1)" font-size="29.8" text-anchor="middle" fill="#000">0</text>
<path d="M170.2,630.6V635.3" stroke="#333" stroke-width="1.4"/>
<text transform="translate(170.2,659.4) scale(0.973,1)" font-size="29.8" text-anchor="middle" fill="#000">1</text>
<path d="M220.4,630.6V635.3" stroke="#333" stroke-width="1.4"/>
<text transform="translate(220.4,659.4) scale(0.973,1)" font-size="29.8" text-anchor="middle" fill="#000">2</text>
<path d="M270.7,630.6V635.3" stroke="#333" stroke-width="1.4"/>
<text transform="translate(270.7,659.4) scale(0.973,1)" font-size="29.8" text-anchor="middle" fill="#000">3</text>
<path d="M320.9,630.6V635.3" stroke="#333" stroke-width="1.4"/>
<text transform="translate(320.9,659.4) scale(0.973,1)" font-size="29.8" text-anchor="middle" fill="#000">4</text>
<path d="M371.1,630.6V635.3" stroke="#333" stroke-width="1.4"/>
<text transform="translate(371.1,659.4) scale(0.973,1)" font-size="29.8" text-anchor="middle" fill="#000">5</text>
<path d="M421.3,630.6V635.3" stroke="#333" stroke-width="1.4"/>
<text transform="translate(421.3,659.4) scale(0.973,1)" font-size="29.8" text-anchor="middle" fill="#000">6</text>
<path d="M471.5,630.6V635.3" stroke="#333" stroke-width="1.4"/>
<text transform="translate(471.5,659.4) scale(0.973,1)" font-size="29.8" text-anchor="middle" fill="#000">7</text>
<path d="M521.8,630.6V635.3" stroke="#333" stroke-width="1.4"/>
<text transform="translate(521.8,659.4) scale(0.973,1)" font-size="29.8" text-anchor="middle" fill="#000">8</text>
<path d="M572.0,630.6V635.3" stroke="#333" stroke-width="1.4"/>
<text transform="translate(572.0,659.4) scale(0.973,1)" font-size="29.8" text-anchor="middle" fill="#000">9</text>
<path d="M622.2,630.6V635.3" stroke="#333" stroke-width="1.4"/>
<text transform="translate(622.2,659.4) scale(0.973,1)" font-size="29.8" text-anchor="middle" fill="#000">10</text>
<path d="M672.4,630.6V635.3" stroke="#333" stroke-width="1.4"/>
<text transform="translate(672.4,659.4) scale(0.973,1)" font-size="29.8" text-anchor="middle" fill="#000">11</text>
<path d="M722.6,630.6V635.3" stroke="#333" stroke-width="1.4"/>
<text transform="translate(722.6,659.4) scale(0.973,1)" font-size="29.8" text-anchor="middle" fill="#000">12</text>
<path d="M772.9,630.6V635.3" stroke="#333" stroke-width="1.4"/>
<text transform="translate(772.9,659.4) scale(0.973,1)" font-size="29.8" text-anchor="middle" fill="#000">13</text>
<text transform="translate(446.5,697.1) scale(0.973,1)" font-size="29.8" text-anchor="middle" fill="#000">Weeks of HFD</text>
<text transform="translate(22.6,315.6) rotate(-90) scale(0.973,1)" font-size="29.8" text-anchor="middle" fill="#000">Body Weight (g)</text>
<rect x="100.9" y="18.2" width="25" height="61.9" fill="#f2f2f2"/>
<circle cx="113.4" cy="33.5" r="8.2" fill="#DFC27D" stroke="#111" stroke-width="1.3"/>
<circle cx="113.4" cy="64.7" r="8.2" fill="#80CDC1" stroke="#111" stroke-width="1.3"/>
<text transform="translate(138.8,42.9) scale(0.965,1)" font-size="29.6" font-style="italic" fill="#000">Adamts14<tspan font-size="22.6" dy="-8.2" dx="1">+/+</tspan></text>
<text transform="translate(138.8,74.1) scale(0.965,1)" font-size="29.6" font-style="italic" fill="#000">Adamts14<tspan font-size="22.6" dy="-8.0" dx="1">-/-</tspan></text>
<text transform="translate(5.3,31.4) scale(0.92,1)" font-size="44" font-weight="bold" fill="#000">a</text>
</g>
<g id="panelB">
<text x="834.8" y="30.6" font-size="44" font-weight="bold" fill="#000">b</text>
<path d="M1005.3,294.65 L1005.3,293.10 L1005.4,291.57 L1005.4,290.04 L1005.5,288.53 L1005.6,287.03 L1005.8,285.53 L1006.0,284.05 L1006.2,282.57 L1006.5,281.11 L1006.8,279.65 L1007.1,278.20 L1007.5,276.77 L1007.9,275.34 L1008.3,273.92 L1008.8,272.50 L1009.2,271.10 L1009.7,269.70 L1010.3,268.32 L1010.8,266.94 L1011.4,265.56 L1012.0,264.20 L1012.6,262.84 L1013.2,261.49 L1013.9,260.14 L1014.5,258.81 L1015.2,257.47 L1015.9,256.15 L1016.6,254.83 L1017.4,253.52 L1018.1,252.21 L1018.8,250.91 L1019.6,249.61 L1020.4,248.32 L1021.2,247.03 L1022.0,245.75 L1022.8,244.47 L1023.6,243.20 L1024.4,241.93 L1025.2,240.66 L1026.1,239.40 L1026.9,238.15 L1027.7,236.89 L1028.6,235.64 L1029.4,234.40 L1030.3,233.15 L1031.1,231.91 L1032.0,230.67 L1032.9,229.43 L1033.7,228.20 L1034.6,226.97 L1035.4,225.74 L1036.3,224.51 L1037.2,223.28 L1038.0,222.06 L1038.9,220.84 L1039.8,219.62 L1040.6,218.40 L1041.5,217.19 L1042.4,215.97 L1043.3,214.76 L1044.2,213.55 L1045.1,212.34 L1046.0,211.14 L1046.9,209.93 L1047.8,208.73 L1048.7,207.53 L1049.6,206.33 L1050.5,205.13 L1051.4,203.94 L1052.3,202.75 L1053.2,201.56 L1054.1,200.37 L1055.0,199.18 L1055.9,198.00 L1056.8,196.81 L1057.7,195.63 L1058.6,194.45 L1059.6,193.28 L1060.5,192.10 L1061.4,190.93 L1063.7,188.01 L1066.0,185.11 L1068.3,182.23 L1070.8,179.37 L1073.2,176.53 L1075.7,173.71 L1078.2,170.91 L1080.8,168.13 L1083.4,165.38 L1086.0,162.65 L1088.6,159.94 L1091.3,157.25 L1093.9,154.58 L1096.6,151.93 L1099.3,149.30 L1102.0,146.69 L1104.8,144.11 L1107.5,141.54 L1110.3,138.99 L1113.0,136.46 L1115.8,133.95 L1118.6,131.45 L1121.4,128.98 L1124.2,126.52 L1127.1,124.08 L1129.9,121.65 L1132.8,119.25 L1135.6,116.85 L1138.5,114.48 L1141.4,112.12 L1144.4,109.78 L1147.3,107.45 L1150.3,105.14 L1153.3,102.84 L1156.4,100.57 L1159.4,98.31 L1162.5,96.08 L1165.6,93.87 L1168.7,91.70 L1171.9,89.55 L1175.0,87.44 L1178.2,85.37 L1181.4,83.34 L1184.6,81.35 L1187.9,79.40 L1191.2,77.51 L1194.4,75.66 L1197.7,73.86 L1201.1,72.13 L1204.4,70.45 L1207.8,68.83 L1211.1,67.27 L1214.5,65.77 L1217.9,64.32 L1221.4,62.93 L1224.8,61.59 L1228.3,60.30 L1231.8,59.06 L1235.2,57.86 L1238.8,56.70 L1242.3,55.57 L1245.8,54.48 L1249.4,53.43 L1252.9,52.40 L1256.5,51.41 L1260.1,50.44 L1263.7,49.51 L1267.3,48.60 L1270.9,47.71 L1274.5,46.85 L1278.2,46.01 L1281.8,45.20 L1285.5,44.40 L1289.1,43.63 L1292.8,42.87 L1296.5,42.13 L1300.2,41.41 L1303.9,40.70 L1307.6,40.01 L1311.3,39.34 L1315.0,38.68 L1318.7,38.04 L1322.5,37.41 L1326.2,36.80 L1329.9,36.21 L1333.7,35.62 L1337.4,35.06 L1341.2,34.50 L1344.9,33.96 L1348.7,33.44 L1352.4,32.92 L1356.2,32.42 L1359.9,31.93 L1363.7,31.46 L1367.5,31.00 L1371.2,30.54 L1375.0,30.10 L1378.7,29.67 L1382.5,29.26 L1386.2,28.85 L1390.0,28.46 L1393.7,28.07 L1397.5,27.70 L1401.3,27.34 L1405.0,26.99 L1408.8,26.64 L1412.5,26.31 L1416.3,25.99 L1420.0,25.68 L1423.8,25.38 L1427.5,25.08 L1431.3,24.80 L1435.0,24.53 L1438.8,24.26 L1442.5,24.00 L1446.3,23.76 L1450.0,23.52 L1453.8,23.28 L1457.5,23.06 L1461.3,22.84 L1465.0,22.64 L1468.8,22.43 L1472.5,22.24 L1476.3,22.05 L1480.0,21.88 L1483.8,21.70 L1487.5,21.54 L1491.3,21.38 L1495.0,21.22 L1498.8,21.08 L1502.5,20.94 L1506.3,20.80 L1510.0,20.67 L1513.8,20.55 L1517.5,20.43 L1521.3,20.31 L1525.0,20.20 L1528.8,20.10 L1532.5,20.00 L1536.3,19.90 L1540.0,19.81 L1543.8,19.73 L1547.5,19.64 L1551.3,19.56 L1555.0,19.49 L1558.8,19.41 L1562.5,19.34 L1566.3,19.28 L1570.0,19.22 L1573.8,19.17 L1577.5,19.14 L1581.2,19.11 L1585.0,19.09 L1588.7,19.06 L1592.5,19.04 L1596.2,19.02 L1600.0,19.00 L1603.7,18.98 L1607.5,18.96 L1611.2,18.94 L1615.0,18.92 L1618.7,18.90 L1622.5,18.89 L1626.2,18.87 L1630.0,18.86 L1633.7,18.85 L1637.5,18.83 L1641.2,18.82 L1645.0,18.81 L1648.7,18.80 L1652.5,18.79 L1656.2,18.78 L1659.9,18.77 L1663.7,18.77 L1667.4,18.76 L1671.2,18.75 L1674.9,18.75 L1678.7,18.74 L1682.4,18.74 L1686.2,18.74 L1689.9,18.73 L1693.7,18.73 L1697.4,18.73 L1701.2,18.73 L1704.9,18.72 L1708.7,18.72 L1712.4,18.72 L1716.2,18.72 L1719.9,18.72 L1723.7,18.72 L1727.4,18.72 L1731.2,18.72 L1734.9,18.72 L1738.7,18.72 L1742.4,18.72 L1746.2,18.72 L1749.9,18.72 L1753.7,18.72 L1757.4,18.72 L1761.2,18.72 L1764.9,18.72 L1768.7,18.72 L1772.4,18.72 L1776.2,18.72 L1779.9,18.72 L1783.7,18.72 L1787.4,18.72 L1791.2,18.72 L1794.9,18.72 L1798.7,18.72 L1802.5,18.72 L1806.2,18.72 L1810.0,18.72 L1813.7,18.72 L1817.5,18.72 L1821.2,18.72 L1825.0,18.72 L1828.7,18.72 L1832.5,18.72 L1836.2,18.72 L1840.0,18.72 L1843.8,18.72 L1847.5,18.72 L1851.3,18.72 L1855.0,18.72 L1858.8,18.72 L1862.5,18.72 L1866.3,18.72 L1870.1,18.72 L1873.8,18.72 L1877.6,18.72 L1881.3,18.72 L1885.1,18.72 L1888.9,18.72 L1892.6,18.72 L1896.4,18.72 L1900.1,18.72 L1903.9,18.72 L1907.7,18.72 L1911.4,18.72 L1915.2,18.72 L1919.0,18.72 L1922.7,18.72 L1926.5,18.72 L1930.3,18.72 L1934.0,18.72 L1937.8,18.72 L1941.5,18.72 L1945.3,18.72 L1949.1,18.72 L1952.8,18.72 L1956.6,18.72 L1960.4,18.72 L1964.2,18.72 L1967.9,18.72 L1971.7,18.72 L1975.5,18.72 L1979.2,18.72 L1983.0,18.70 L1983.0,22.00 L1979.3,22.01 L1975.6,22.02 L1971.8,22.02 L1968.1,22.02 L1964.4,22.02 L1960.7,22.02 L1956.9,22.02 L1953.2,22.02 L1949.5,22.02 L1945.8,22.02 L1942.1,22.02 L1938.3,22.02 L1934.6,22.02 L1930.9,22.02 L1927.2,22.02 L1923.4,22.02 L1919.7,22.02 L1916.0,22.02 L1912.3,22.02 L1908.6,22.02 L1904.8,22.02 L1901.1,22.02 L1897.4,22.02 L1893.7,22.02 L1890.0,22.02 L1886.2,22.02 L1882.5,22.02 L1878.8,22.02 L1875.1,22.02 L1871.4,22.02 L1867.6,22.02 L1863.9,22.02 L1860.2,22.02 L1856.5,22.02 L1852.8,22.02 L1849.0,22.02 L1845.3,22.02 L1841.6,22.02 L1837.9,22.02 L1834.2,22.02 L1830.4,22.02 L1826.7,22.02 L1823.0,22.02 L1819.3,22.02 L1815.6,22.02 L1811.8,22.02 L1808.1,22.02 L1804.4,22.02 L1800.7,22.02 L1797.0,22.02 L1793.2,22.02 L1789.5,22.02 L1785.8,22.02 L1782.1,22.02 L1778.4,22.02 L1774.7,22.02 L1770.9,22.02 L1767.2,22.02 L1763.5,22.02 L1759.8,22.02 L1756.1,22.02 L1752.3,22.02 L1748.6,22.02 L1744.9,22.02 L1741.2,22.03 L1737.5,22.03 L1733.8,22.04 L1730.0,22.04 L1726.3,22.05 L1722.6,22.05 L1718.9,22.06 L1715.2,22.07 L1711.5,22.08 L1707.7,22.09 L1704.0,22.10 L1700.3,22.11 L1696.6,22.12 L1692.9,22.14 L1689.2,22.15 L1685.4,22.17 L1681.7,22.18 L1678.0,22.20 L1674.3,22.22 L1670.6,22.24 L1666.9,22.26 L1663.2,22.28 L1659.4,22.31 L1655.7,22.33 L1652.0,22.36 L1648.3,22.39 L1644.6,22.41 L1640.9,22.44 L1637.2,22.47 L1633.4,22.51 L1629.7,22.54 L1626.0,22.57 L1622.3,22.61 L1618.6,22.65 L1614.9,22.69 L1611.2,22.73 L1607.4,22.77 L1603.7,22.82 L1600.0,22.86 L1596.3,22.91 L1592.6,22.96 L1588.9,23.01 L1585.2,23.06 L1581.4,23.11 L1577.7,23.17 L1574.0,23.23 L1570.3,23.29 L1566.6,23.35 L1562.9,23.41 L1559.2,23.47 L1555.5,23.54 L1551.8,23.61 L1548.0,23.68 L1544.3,23.75 L1540.6,23.83 L1536.9,23.90 L1533.2,23.98 L1529.5,24.07 L1525.8,24.15 L1522.1,24.24 L1518.3,24.34 L1514.6,24.43 L1510.9,24.54 L1507.2,24.64 L1503.5,24.76 L1499.8,24.88 L1496.1,25.00 L1492.4,25.13 L1488.7,25.27 L1485.0,25.42 L1481.2,25.57 L1477.5,25.73 L1473.8,25.89 L1470.1,26.07 L1466.4,26.25 L1462.7,26.45 L1459.0,26.65 L1455.3,26.86 L1451.6,27.08 L1447.9,27.31 L1444.2,27.55 L1440.4,27.80 L1436.7,28.07 L1433.0,28.34 L1429.3,28.63 L1425.6,28.92 L1421.9,29.23 L1418.2,29.56 L1414.5,29.89 L1410.8,30.24 L1407.1,30.60 L1403.4,30.98 L1399.7,31.37 L1396.0,31.77 L1392.3,32.19 L1388.5,32.62 L1384.8,33.07 L1381.1,33.54 L1377.4,34.02 L1373.7,34.52 L1370.0,35.03 L1366.3,35.56 L1362.6,36.11 L1358.9,36.68 L1355.2,37.26 L1351.5,37.86 L1347.8,38.47 L1344.1,39.11 L1340.4,39.76 L1336.7,40.42 L1333.0,41.10 L1329.3,41.80 L1325.7,42.51 L1322.0,43.24 L1318.3,43.98 L1314.6,44.74 L1311.0,45.51 L1307.3,46.30 L1303.7,47.11 L1300.0,47.92 L1296.4,48.76 L1292.8,49.60 L1289.2,50.47 L1285.5,51.34 L1281.9,52.23 L1278.4,53.14 L1274.8,54.07 L1271.2,55.01 L1267.6,55.97 L1264.1,56.95 L1260.6,57.96 L1257.0,58.99 L1253.5,60.04 L1250.0,61.11 L1246.5,62.22 L1243.1,63.35 L1239.6,64.51 L1236.1,65.71 L1232.7,66.94 L1229.3,68.21 L1225.9,69.53 L1222.5,70.89 L1219.1,72.30 L1215.8,73.76 L1212.4,75.28 L1209.1,76.85 L1205.8,78.48 L1202.5,80.17 L1199.3,81.92 L1196.0,83.72 L1192.8,85.58 L1189.6,87.48 L1186.4,89.43 L1183.2,91.43 L1180.1,93.46 L1176.9,95.54 L1173.8,97.65 L1170.7,99.80 L1167.6,101.97 L1164.6,104.18 L1161.5,106.41 L1158.5,108.66 L1155.5,110.94 L1152.5,113.24 L1149.5,115.55 L1146.6,117.87 L1143.7,120.21 L1140.8,122.56 L1137.9,124.92 L1135.0,127.30 L1132.1,129.70 L1129.3,132.11 L1126.5,134.54 L1123.7,136.99 L1120.9,139.45 L1118.2,141.93 L1115.5,144.43 L1112.8,146.95 L1110.1,149.49 L1107.4,152.05 L1104.7,154.63 L1102.1,157.23 L1099.5,159.85 L1096.9,162.50 L1094.3,165.16 L1091.8,167.86 L1089.3,170.57 L1086.8,173.31 L1084.3,176.07 L1081.8,178.86 L1079.4,181.67 L1076.9,184.51 L1074.5,187.38 L1072.2,190.27 L1069.9,193.18 L1069.0,194.36 L1068.1,195.54 L1067.2,196.72 L1066.3,197.91 L1065.4,199.10 L1064.5,200.29 L1063.6,201.48 L1062.7,202.68 L1061.8,203.88 L1061.0,205.08 L1060.1,206.28 L1059.2,207.48 L1058.3,208.69 L1057.5,209.89 L1056.6,211.10 L1055.7,212.31 L1054.8,213.52 L1053.9,214.73 L1053.1,215.94 L1052.2,217.15 L1051.3,218.36 L1050.4,219.57 L1049.5,220.78 L1048.7,222.00 L1047.8,223.21 L1046.9,224.42 L1046.0,225.63 L1045.1,226.84 L1044.2,228.05 L1043.3,229.25 L1042.4,230.46 L1041.5,231.67 L1040.5,232.87 L1039.6,234.08 L1038.7,235.29 L1037.8,236.50 L1036.9,237.71 L1036.0,238.92 L1035.1,240.13 L1034.2,241.34 L1033.3,242.56 L1032.4,243.78 L1031.5,245.00 L1030.6,246.23 L1029.7,247.46 L1028.8,248.69 L1028.0,249.93 L1027.1,251.17 L1026.3,252.41 L1025.4,253.66 L1024.6,254.92 L1023.8,256.18 L1023.0,257.45 L1022.2,258.72 L1021.4,260.01 L1020.7,261.29 L1019.9,262.59 L1019.2,263.89 L1018.5,265.20 L1017.9,266.52 L1017.2,267.84 L1016.6,269.18 L1016.0,270.52 L1015.4,271.87 L1014.9,273.23 L1014.3,274.60 L1013.8,275.99 L1013.4,277.38 L1012.9,278.78 L1012.5,280.19 L1012.1,281.62 L1011.7,283.06 L1011.3,284.50 L1010.9,285.97 L1010.6,287.44 L1010.3,288.92 L1009.9,290.42 L1009.6,291.94 L1009.3,293.46 L1009.0,295.00Z" fill="#80CDC1"/>
<path d="M956.6,295.30 L1001.6,295.30 L1002.1,294.00 L1002.1,292.46 L1002.2,290.93 L1002.3,289.41 L1002.5,287.90 L1002.6,286.40 L1002.8,284.91 L1003.1,283.43 L1003.3,281.95 L1003.6,280.49 L1004.0,279.04 L1004.3,277.59 L1004.7,276.15 L1005.1,274.72 L1005.5,273.30 L1006.0,271.89 L1006.5,270.48 L1007.0,269.09 L1007.5,267.70 L1008.0,266.31 L1008.6,264.94 L1009.2,263.57 L1009.8,262.21 L1010.4,260.85 L1011.1,259.51 L1011.7,258.17 L1012.4,256.83 L1013.1,255.50 L1013.8,254.18 L1014.5,252.86 L1015.2,251.55 L1016.0,250.24 L1016.8,248.94 L1017.5,247.64 L1018.3,246.35 L1019.1,245.06 L1019.9,243.78 L1020.7,242.50 L1021.5,241.23 L1022.3,239.96 L1023.2,238.69 L1024.0,237.43 L1024.8,236.17 L1025.7,234.92 L1026.5,233.67 L1027.4,232.42 L1028.2,231.17 L1029.0,229.93 L1029.9,228.69 L1030.7,227.45 L1031.6,226.22 L1032.4,224.98 L1033.3,223.75 L1034.1,222.52 L1035.0,221.30 L1035.8,220.07 L1036.7,218.85 L1037.5,217.63 L1038.4,216.41 L1039.3,215.20 L1040.2,213.98 L1041.1,212.77 L1042.0,211.56 L1042.9,210.36 L1043.8,209.15 L1044.7,207.95 L1045.7,206.75 L1046.6,205.55 L1047.5,204.35 L1048.4,203.15 L1049.4,201.96 L1050.3,200.77 L1051.2,199.57 L1052.1,198.39 L1053.0,197.20 L1053.9,196.01 L1054.8,194.83 L1055.6,193.65 L1056.5,192.47 L1057.4,191.29 L1058.3,190.12 L1060.5,187.17 L1062.8,184.25 L1065.1,181.34 L1067.5,178.45 L1070.0,175.58 L1072.5,172.73 L1075.0,169.90 L1077.6,167.09 L1080.1,164.30 L1082.7,161.54 L1085.4,158.80 L1088.0,156.08 L1090.7,153.38 L1093.3,150.70 L1096.0,148.04 L1098.7,145.40 L1101.4,142.79 L1104.2,140.19 L1106.9,137.62 L1109.7,135.06 L1112.5,132.53 L1115.3,130.01 L1118.1,127.51 L1121.0,125.04 L1123.9,122.58 L1126.7,120.14 L1129.6,117.72 L1132.6,115.32 L1135.5,112.94 L1138.5,110.57 L1141.4,108.23 L1144.4,105.90 L1147.4,103.59 L1150.5,101.29 L1153.5,99.02 L1156.6,96.76 L1159.7,94.53 L1162.8,92.33 L1165.9,90.15 L1169.0,88.00 L1172.2,85.88 L1175.4,83.79 L1178.6,81.75 L1181.8,79.74 L1185.0,77.77 L1188.3,75.85 L1191.5,73.97 L1194.8,72.14 L1198.1,70.35 L1201.5,68.63 L1204.8,66.95 L1208.2,65.34 L1211.6,63.78 L1215.0,62.28 L1218.4,60.83 L1221.8,59.44 L1225.3,58.09 L1228.7,56.80 L1232.2,55.55 L1235.7,54.35 L1239.3,53.19 L1242.8,52.08 L1246.3,51.00 L1249.9,49.96 L1253.5,48.96 L1257.1,47.99 L1260.7,47.05 L1264.3,46.14 L1267.9,45.26 L1271.5,44.40 L1275.2,43.56 L1278.9,42.75 L1282.5,41.95 L1286.2,41.17 L1289.9,40.40 L1293.6,39.65 L1297.3,38.91 L1301.0,38.18 L1304.7,37.46 L1308.4,36.76 L1312.2,36.07 L1315.9,35.39 L1319.7,34.73 L1323.4,34.08 L1327.2,33.44 L1330.9,32.82 L1334.7,32.21 L1338.4,31.61 L1342.2,31.03 L1346.0,30.46 L1349.8,29.91 L1353.5,29.37 L1357.3,28.85 L1361.1,28.34 L1364.9,27.84 L1368.6,27.36 L1372.4,26.89 L1376.2,26.44 L1380.0,26.00 L1383.7,25.58 L1387.5,25.17 L1391.3,24.77 L1395.1,24.39 L1398.8,24.01 L1402.6,23.66 L1406.4,23.31 L1410.2,22.97 L1413.9,22.65 L1417.7,22.34 L1421.5,22.04 L1425.2,21.75 L1429.0,21.47 L1432.8,21.21 L1436.5,20.95 L1440.3,20.70 L1444.1,20.46 L1447.9,20.24 L1451.6,20.02 L1455.4,19.81 L1459.2,19.61 L1462.9,19.41 L1466.7,19.23 L1470.5,19.05 L1474.2,18.88 L1478.0,18.72 L1481.8,18.57 L1485.5,18.42 L1489.3,18.28 L1493.1,18.14 L1496.8,18.01 L1500.6,17.89 L1504.3,17.77 L1508.1,17.66 L1511.9,17.55 L1515.6,17.45 L1519.4,17.35 L1523.2,17.26 L1526.9,17.17 L1530.7,17.09 L1534.5,17.00 L1538.2,16.93 L1542.0,16.85 L1545.7,16.78 L1549.5,16.71 L1553.3,16.64 L1557.0,16.57 L1560.8,16.51 L1564.6,16.45 L1568.3,16.39 L1572.1,16.33 L1575.8,16.28 L1579.6,16.22 L1583.4,16.17 L1587.1,16.13 L1590.9,16.08 L1594.6,16.03 L1598.4,15.99 L1602.2,15.95 L1605.9,15.91 L1609.7,15.88 L1613.5,15.84 L1617.2,15.81 L1621.0,15.78 L1624.7,15.75 L1628.5,15.72 L1632.3,15.69 L1636.0,15.67 L1639.8,15.64 L1643.5,15.62 L1647.3,15.60 L1651.1,15.58 L1654.8,15.57 L1658.6,15.55 L1662.3,15.53 L1666.1,15.52 L1669.9,15.51 L1673.6,15.50 L1677.4,15.49 L1681.2,15.48 L1684.9,15.47 L1688.7,15.47 L1692.4,15.46 L1696.2,15.46 L1700.0,15.45 L1703.7,15.45 L1707.5,15.45 L1711.3,15.45 L1715.0,15.45 L1718.8,15.45 L1722.5,15.45 L1726.3,15.45 L1730.1,15.45 L1733.8,15.45 L1737.6,15.45 L1741.4,15.45 L1745.1,15.45 L1748.9,15.45 L1752.7,15.45 L1756.4,15.45 L1760.2,15.45 L1764.0,15.45 L1767.7,15.45 L1771.5,15.45 L1775.3,15.45 L1779.0,15.45 L1782.8,15.45 L1786.6,15.45 L1790.3,15.45 L1794.1,15.45 L1797.9,15.45 L1801.6,15.45 L1805.4,15.45 L1809.2,15.45 L1812.9,15.45 L1816.7,15.45 L1820.5,15.45 L1824.2,15.45 L1828.0,15.45 L1831.8,15.45 L1835.6,15.45 L1839.3,15.45 L1843.1,15.45 L1846.9,15.45 L1850.6,15.45 L1854.4,15.45 L1858.2,15.45 L1862.0,15.45 L1865.7,15.45 L1869.5,15.45 L1873.3,15.45 L1877.1,15.45 L1880.8,15.45 L1884.6,15.45 L1888.4,15.45 L1892.2,15.45 L1896.0,15.45 L1899.7,15.45 L1903.5,15.45 L1907.3,15.45 L1911.1,15.45 L1914.9,15.45 L1918.6,15.45 L1922.4,15.45 L1926.2,15.45 L1930.0,15.45 L1933.8,15.45 L1937.5,15.45 L1941.3,15.45 L1945.1,15.45 L1948.9,15.45 L1952.7,15.45 L1956.5,15.45 L1960.3,15.45 L1964.1,15.45 L1967.8,15.45 L1971.6,15.45 L1975.4,15.45 L1979.2,15.43 L1983.0,15.40 L1983.0,22.00 L1979.2,22.00 L1975.5,22.00 L1971.8,22.00 L1968.0,22.00 L1964.3,22.00 L1960.5,22.00 L1956.8,22.00 L1953.0,22.00 L1949.3,22.00 L1945.5,22.00 L1941.8,22.00 L1938.0,22.00 L1934.3,22.00 L1930.5,22.00 L1926.8,22.00 L1923.0,22.00 L1919.3,22.00 L1915.5,22.00 L1911.8,22.00 L1908.1,22.00 L1904.3,22.00 L1900.6,22.00 L1896.8,22.00 L1893.1,22.00 L1889.3,22.00 L1885.6,22.00 L1881.8,22.00 L1878.1,22.00 L1874.4,22.00 L1870.6,22.00 L1866.9,22.00 L1863.1,22.00 L1859.4,22.00 L1855.6,22.00 L1851.9,22.00 L1848.2,22.00 L1844.4,22.00 L1840.7,22.00 L1836.9,22.00 L1833.2,22.00 L1829.5,22.00 L1825.7,22.00 L1822.0,22.00 L1818.2,22.00 L1814.5,22.00 L1810.8,22.00 L1807.0,22.00 L1803.3,22.00 L1799.5,22.00 L1795.8,22.00 L1792.1,22.00 L1788.3,22.00 L1784.6,22.00 L1780.9,22.00 L1777.1,22.00 L1773.4,22.00 L1769.6,22.00 L1765.9,22.00 L1762.2,22.00 L1758.4,22.00 L1754.7,22.00 L1751.0,22.00 L1747.2,22.00 L1743.5,22.00 L1739.7,22.00 L1736.0,22.00 L1732.3,22.00 L1728.5,22.00 L1724.8,22.00 L1721.1,22.00 L1717.3,22.00 L1713.6,22.00 L1709.9,22.00 L1706.1,22.00 L1702.4,22.00 L1698.7,22.00 L1694.9,22.00 L1691.2,22.00 L1687.4,22.00 L1683.7,22.00 L1680.0,22.00 L1676.2,22.00 L1672.5,22.00 L1668.8,22.00 L1665.0,22.00 L1661.3,22.00 L1657.6,22.00 L1653.8,22.00 L1650.1,22.00 L1646.4,22.00 L1642.6,22.00 L1638.9,22.00 L1635.2,22.00 L1631.4,22.00 L1627.7,22.00 L1624.0,22.00 L1620.2,22.00 L1616.5,22.00 L1612.8,22.00 L1609.0,22.00 L1605.3,22.00 L1601.6,22.00 L1597.8,22.00 L1594.1,22.00 L1590.4,22.00 L1586.6,22.00 L1582.9,22.00 L1579.2,22.00 L1575.4,22.00 L1571.7,22.04 L1568.0,22.11 L1564.2,22.18 L1560.5,22.26 L1556.8,22.33 L1553.0,22.42 L1549.3,22.51 L1545.6,22.60 L1541.8,22.70 L1538.1,22.80 L1534.4,22.91 L1530.6,23.03 L1526.9,23.15 L1523.2,23.27 L1519.4,23.40 L1515.7,23.54 L1512.0,23.68 L1508.2,23.83 L1504.5,23.98 L1500.8,24.14 L1497.0,24.31 L1493.3,24.48 L1489.6,24.66 L1485.8,24.84 L1482.1,25.03 L1478.4,25.23 L1474.6,25.43 L1470.9,25.64 L1467.2,25.86 L1463.4,26.08 L1459.7,26.31 L1456.0,26.55 L1452.2,26.79 L1448.5,27.05 L1444.8,27.31 L1441.0,27.57 L1437.3,27.85 L1433.6,28.13 L1429.8,28.42 L1426.1,28.71 L1422.3,29.02 L1418.6,29.33 L1414.9,29.65 L1411.1,29.98 L1407.4,30.32 L1403.7,30.66 L1399.9,31.01 L1396.2,31.38 L1392.5,31.75 L1388.7,32.12 L1385.0,32.51 L1381.3,32.91 L1377.5,33.31 L1373.8,33.73 L1370.0,34.15 L1366.3,34.58 L1362.6,35.02 L1358.8,35.48 L1355.1,35.94 L1351.4,36.41 L1347.6,36.90 L1343.9,37.39 L1340.2,37.91 L1336.4,38.43 L1332.7,38.97 L1329.0,39.53 L1325.3,40.10 L1321.6,40.69 L1317.9,41.29 L1314.2,41.92 L1310.5,42.56 L1306.8,43.22 L1303.1,43.91 L1299.4,44.61 L1295.7,45.33 L1292.1,46.08 L1288.4,46.85 L1284.8,47.64 L1281.1,48.46 L1277.5,49.30 L1273.9,50.17 L1270.3,51.05 L1266.7,51.97 L1263.1,52.90 L1259.5,53.86 L1255.9,54.85 L1252.4,55.86 L1248.8,56.89 L1245.3,57.95 L1241.8,59.04 L1238.3,60.16 L1234.8,61.32 L1231.3,62.51 L1227.8,63.75 L1224.4,65.03 L1220.9,66.37 L1217.5,67.75 L1214.1,69.20 L1210.7,70.70 L1207.3,72.27 L1204.0,73.90 L1200.7,75.59 L1197.3,77.35 L1194.0,79.17 L1190.8,81.04 L1187.5,82.96 L1184.3,84.93 L1181.0,86.95 L1177.9,89.01 L1174.7,91.11 L1171.5,93.25 L1168.4,95.42 L1165.3,97.63 L1162.3,99.86 L1159.2,102.11 L1156.2,104.39 L1153.2,106.69 L1150.3,109.00 L1147.3,111.33 L1144.4,113.67 L1141.6,116.02 L1138.7,118.39 L1135.9,120.77 L1133.1,123.16 L1130.3,125.57 L1127.5,128.00 L1124.7,130.44 L1121.9,132.89 L1119.1,135.37 L1116.4,137.85 L1113.6,140.36 L1110.8,142.88 L1108.1,145.43 L1105.3,147.98 L1102.6,150.56 L1099.9,153.16 L1097.2,155.78 L1094.5,158.42 L1091.8,161.07 L1089.2,163.75 L1086.6,166.45 L1084.0,169.17 L1081.5,171.92 L1078.9,174.68 L1076.4,177.47 L1074.0,180.28 L1071.6,183.12 L1069.2,185.97 L1066.8,188.85 L1064.4,191.75 L1063.5,192.92 L1062.6,194.09 L1061.7,195.26 L1060.7,196.43 L1059.8,197.61 L1058.9,198.79 L1058.0,199.98 L1057.1,201.16 L1056.2,202.35 L1055.3,203.54 L1054.4,204.73 L1053.5,205.92 L1052.6,207.11 L1051.7,208.31 L1050.8,209.51 L1049.9,210.71 L1049.0,211.91 L1048.1,213.12 L1047.2,214.33 L1046.3,215.53 L1045.5,216.74 L1044.6,217.96 L1043.7,219.17 L1042.8,220.39 L1042.0,221.60 L1041.1,222.82 L1040.2,224.05 L1039.3,225.27 L1038.5,226.49 L1037.6,227.72 L1036.7,228.95 L1035.8,230.18 L1035.0,231.41 L1034.1,232.65 L1033.2,233.88 L1032.4,235.12 L1031.5,236.37 L1030.6,237.61 L1029.8,238.86 L1029.0,240.11 L1028.1,241.37 L1027.3,242.63 L1026.5,243.89 L1025.6,245.16 L1024.8,246.43 L1024.0,247.71 L1023.2,248.99 L1022.5,250.28 L1021.7,251.57 L1020.9,252.87 L1020.2,254.17 L1019.5,255.48 L1018.7,256.80 L1018.0,258.12 L1017.3,259.45 L1016.7,260.78 L1016.0,262.12 L1015.4,263.47 L1014.8,264.83 L1014.2,266.19 L1013.6,267.56 L1013.0,268.94 L1012.5,270.32 L1012.0,271.72 L1011.5,273.12 L1011.1,274.53 L1010.7,275.95 L1010.3,277.38 L1009.9,278.82 L1009.6,280.27 L1009.3,281.72 L1009.1,283.19 L1008.9,284.67 L1008.7,286.15 L1008.6,287.65 L1008.5,289.16 L1008.5,290.68 L1008.5,292.21 L1008.5,293.75 L1008.5,295.30 L1008.3,301.50 L956.6,301.50Z" fill="#DFC27D"/>
<path d="M956.6,606.15 L1004.9,606.15 L1005.9,603.28 L1006.9,601.07 L1007.9,599.08 L1008.9,597.22 L1009.9,595.42 L1010.9,593.67 L1011.9,591.96 L1012.9,590.29 L1013.9,588.65 L1014.9,587.05 L1015.9,585.47 L1016.9,583.92 L1017.9,582.40 L1018.9,580.90 L1019.9,579.43 L1020.9,577.98 L1021.9,576.55 L1022.9,575.14 L1023.9,573.76 L1024.9,572.39 L1025.9,571.04 L1026.9,569.72 L1027.9,568.41 L1028.9,567.12 L1029.9,565.84 L1030.9,564.58 L1031.9,563.34 L1032.9,562.11 L1033.9,560.90 L1034.9,559.70 L1035.9,558.51 L1036.9,557.34 L1037.9,556.18 L1038.9,555.04 L1039.9,553.90 L1040.9,552.78 L1041.9,551.67 L1042.9,550.57 L1043.9,549.49 L1044.9,548.41 L1046.9,546.29 L1049.2,543.85 L1051.6,541.46 L1053.9,539.13 L1056.3,536.84 L1058.6,534.59 L1061.0,532.39 L1063.3,530.22 L1065.7,528.10 L1068.0,526.01 L1070.4,523.96 L1072.7,521.94 L1075.1,519.95 L1077.4,517.99 L1079.7,516.06 L1082.1,514.16 L1084.4,512.28 L1086.8,510.43 L1089.1,508.60 L1091.5,506.79 L1093.8,505.01 L1096.2,503.24 L1098.5,501.50 L1100.9,499.77 L1103.2,498.06 L1105.6,496.36 L1107.9,494.69 L1110.2,493.03 L1112.6,491.39 L1114.9,489.76 L1117.3,488.14 L1119.6,486.54 L1122.0,484.96 L1124.3,483.38 L1126.7,481.83 L1129.0,480.28 L1131.4,478.74 L1133.7,477.22 L1136.1,475.71 L1138.4,474.21 L1140.7,472.73 L1143.1,471.25 L1145.4,469.78 L1147.8,468.33 L1150.1,466.88 L1152.5,465.45 L1154.8,464.02 L1157.2,462.61 L1159.5,461.20 L1161.9,459.80 L1164.2,458.41 L1166.6,457.03 L1168.9,455.66 L1171.2,454.30 L1173.6,452.95 L1175.9,451.60 L1178.3,450.26 L1180.6,448.93 L1183.0,447.61 L1185.3,446.29 L1187.7,444.99 L1190.0,443.69 L1192.4,442.39 L1194.7,441.11 L1197.1,439.83 L1199.4,438.56 L1201.7,437.29 L1204.1,436.04 L1206.4,434.78 L1208.8,433.54 L1211.1,432.30 L1213.5,431.07 L1215.8,429.84 L1218.2,428.62 L1220.5,427.41 L1222.9,426.20 L1225.2,425.00 L1227.6,423.80 L1229.9,422.61 L1232.2,421.42 L1234.6,420.24 L1236.9,419.07 L1239.3,417.90 L1241.6,416.74 L1244.0,415.58 L1246.3,414.43 L1248.7,413.28 L1251.0,412.14 L1253.4,411.01 L1255.7,409.89 L1258.1,408.77 L1260.4,407.66 L1262.7,406.56 L1265.1,405.46 L1267.4,404.38 L1269.8,403.30 L1272.1,402.23 L1274.5,401.17 L1276.8,400.12 L1279.2,399.08 L1281.5,398.05 L1283.9,397.02 L1286.2,396.01 L1288.5,395.01 L1290.9,394.01 L1293.2,393.03 L1295.6,392.05 L1297.9,391.09 L1300.3,390.13 L1302.6,389.19 L1305.0,388.25 L1307.3,387.33 L1309.7,386.41 L1312.0,385.51 L1314.4,384.61 L1316.7,383.73 L1319.0,382.85 L1321.4,381.99 L1323.7,381.13 L1326.1,380.29 L1328.4,379.46 L1330.8,378.63 L1333.1,377.82 L1335.5,377.02 L1337.8,376.22 L1340.2,375.44 L1342.5,374.67 L1344.9,373.90 L1347.2,373.15 L1349.5,372.41 L1351.9,371.67 L1354.2,370.95 L1356.6,370.23 L1358.9,369.53 L1361.3,368.83 L1363.6,368.15 L1366.0,367.47 L1368.3,366.80 L1370.7,366.14 L1373.0,365.49 L1375.4,364.85 L1377.7,364.21 L1380.0,363.59 L1382.4,362.97 L1384.7,362.36 L1387.1,361.77 L1389.4,361.17 L1391.8,360.59 L1394.1,360.02 L1396.5,359.45 L1398.8,358.89 L1401.2,358.34 L1403.5,357.79 L1405.9,357.26 L1408.2,356.73 L1410.5,356.21 L1412.9,355.70 L1415.2,355.19 L1417.6,354.69 L1419.9,354.20 L1422.3,353.72 L1424.6,353.24 L1427.0,352.77 L1429.3,352.31 L1431.7,351.85 L1434.0,351.40 L1436.4,350.96 L1438.7,350.53 L1441.0,350.10 L1443.4,349.68 L1445.7,349.26 L1448.1,348.85 L1450.4,348.45 L1452.8,348.05 L1455.1,347.66 L1457.5,347.28 L1459.8,346.90 L1462.2,346.53 L1464.5,346.16 L1466.9,345.80 L1469.2,345.45 L1471.5,345.10 L1473.9,344.76 L1476.2,344.42 L1478.6,344.09 L1480.9,343.76 L1483.3,343.44 L1485.6,343.12 L1488.0,342.81 L1490.3,342.50 L1492.7,342.20 L1495.0,341.90 L1497.4,341.61 L1499.7,341.32 L1502.0,341.04 L1504.4,340.76 L1506.7,340.48 L1509.1,340.21 L1511.4,339.95 L1513.8,339.68 L1516.1,339.43 L1518.5,339.17 L1520.8,338.92 L1523.2,338.68 L1525.5,338.44 L1527.9,338.20 L1530.2,337.96 L1532.5,337.73 L1534.9,337.51 L1537.2,337.28 L1539.6,337.06 L1541.9,336.85 L1544.3,336.63 L1546.6,336.43 L1549.0,336.22 L1551.3,336.02 L1553.7,335.82 L1556.0,335.62 L1558.4,335.43 L1560.7,335.24 L1563.0,335.05 L1565.4,334.87 L1567.7,334.69 L1570.1,334.51 L1572.4,334.33 L1574.8,334.16 L1577.1,333.99 L1579.5,333.82 L1581.8,333.66 L1584.2,333.50 L1586.5,333.34 L1588.9,333.18 L1591.2,333.03 L1593.5,332.88 L1595.9,332.73 L1598.2,332.58 L1600.6,332.44 L1602.9,332.30 L1605.3,332.16 L1607.6,332.02 L1610.0,331.89 L1612.3,331.76 L1614.7,331.63 L1617.0,331.50 L1619.4,331.37 L1621.7,331.25 L1624.0,331.13 L1626.4,331.01 L1628.7,330.89 L1631.1,330.78 L1633.4,330.66 L1635.8,330.55 L1638.1,330.44 L1640.5,330.33 L1642.8,330.23 L1645.2,330.13 L1647.5,330.02 L1649.9,329.92 L1652.2,329.83 L1654.5,329.73 L1656.9,329.63 L1659.2,329.54 L1661.6,329.45 L1663.9,329.36 L1666.3,329.27 L1668.6,329.19 L1671.0,329.10 L1673.3,329.02 L1675.7,328.94 L1678.0,328.86 L1680.4,328.78 L1682.7,328.70 L1685.0,328.62 L1687.4,328.55 L1689.7,328.48 L1692.1,328.41 L1694.4,328.34 L1696.8,328.27 L1699.1,328.20 L1701.5,328.13 L1703.8,328.07 L1706.2,328.01 L1708.5,327.94 L1710.9,327.88 L1713.2,327.82 L1715.5,327.77 L1717.9,327.71 L1720.2,327.65 L1722.6,327.60 L1724.9,327.54 L1727.3,327.49 L1729.6,327.44 L1732.0,327.39 L1734.3,327.34 L1736.7,327.29 L1739.0,327.25 L1741.4,327.20 L1743.7,327.16 L1746.0,327.11 L1748.4,327.07 L1750.7,327.03 L1753.1,326.99 L1755.4,326.95 L1757.8,326.91 L1760.1,326.87 L1762.5,326.84 L1764.8,326.80 L1767.2,326.77 L1769.5,326.73 L1771.8,326.70 L1774.2,326.67 L1776.5,326.64 L1778.9,326.61 L1781.2,326.58 L1783.6,326.55 L1785.9,326.52 L1788.3,326.49 L1790.6,326.47 L1793.0,326.44 L1795.3,326.42 L1797.7,326.39 L1800.0,326.37 L1802.3,326.35 L1804.7,326.33 L1807.0,326.31 L1809.4,326.30 L1811.7,326.30 L1814.1,326.30 L1816.4,326.30 L1818.8,326.30 L1821.1,326.30 L1823.5,326.30 L1825.8,326.30 L1828.2,326.30 L1830.5,326.30 L1832.8,326.30 L1835.2,326.30 L1837.5,326.30 L1839.9,326.30 L1842.2,326.30 L1844.6,326.30 L1846.9,326.30 L1849.3,326.30 L1851.6,326.30 L1854.0,326.30 L1856.3,326.30 L1858.7,326.30 L1861.0,326.30 L1863.3,326.30 L1865.7,326.30 L1868.0,326.30 L1870.4,326.30 L1872.7,326.30 L1875.1,326.30 L1877.4,326.30 L1879.8,326.30 L1882.1,326.30 L1884.5,326.30 L1886.8,326.30 L1889.2,326.30 L1891.5,326.30 L1893.8,326.30 L1896.2,326.30 L1898.5,326.30 L1900.9,326.30 L1903.2,326.30 L1905.6,326.30 L1907.9,326.30 L1910.3,326.30 L1912.6,326.30 L1915.0,326.30 L1917.3,326.30 L1919.7,326.30 L1922.0,326.30 L1924.3,326.30 L1926.7,326.30 L1929.0,326.30 L1931.4,326.30 L1933.7,326.30 L1936.1,326.30 L1938.4,326.30 L1940.8,326.30 L1943.1,326.30 L1945.5,326.30 L1947.8,326.30 L1950.2,326.30 L1952.5,326.30 L1954.8,326.30 L1957.2,326.30 L1959.5,326.30 L1961.9,326.30 L1964.2,326.30 L1966.6,326.30 L1968.9,326.30 L1971.3,326.30 L1973.6,326.30 L1976.0,326.30 L1978.3,326.30 L1980.7,326.30 L1983.0,326.30" fill="none" stroke="#80CDC1" stroke-width="6.2" stroke-linejoin="round"/>
<path d="M956.6,606.15 L1004.7,606.15 L1005.7,601.36 L1006.7,592.96 L1007.7,584.70 L1008.7,577.37 L1009.7,571.08 L1010.7,565.76 L1011.7,561.28 L1012.7,557.53 L1013.7,554.32 L1014.7,551.50 L1015.7,548.99 L1016.7,546.71 L1017.7,544.61 L1018.7,542.65 L1019.7,540.82 L1020.7,539.07 L1021.7,537.41 L1022.7,535.81 L1023.7,534.26 L1024.7,532.77 L1025.7,531.31 L1026.7,529.88 L1027.7,528.50 L1028.7,527.14 L1029.7,525.81 L1030.7,524.52 L1031.7,523.25 L1032.7,522.00 L1033.7,520.78 L1034.7,519.58 L1035.7,518.40 L1036.7,517.24 L1037.7,516.11 L1038.7,514.99 L1039.7,513.89 L1040.7,512.80 L1041.7,511.73 L1042.7,510.68 L1043.7,509.64 L1044.7,508.62 L1046.7,506.62 L1049.0,504.33 L1051.4,502.11 L1053.7,499.95 L1056.1,497.85 L1058.4,495.80 L1060.8,493.80 L1063.1,491.85 L1065.5,489.94 L1067.8,488.07 L1070.2,486.24 L1072.5,484.45 L1074.9,482.70 L1077.2,480.97 L1079.6,479.28 L1081.9,477.62 L1084.2,475.99 L1086.6,474.38 L1088.9,472.81 L1091.3,471.25 L1093.6,469.72 L1096.0,468.22 L1098.3,466.74 L1100.7,465.28 L1103.0,463.84 L1105.4,462.41 L1107.7,461.01 L1110.1,459.63 L1112.4,458.26 L1114.8,456.92 L1117.1,455.58 L1119.4,454.27 L1121.8,452.97 L1124.1,451.68 L1126.5,450.41 L1128.8,449.16 L1131.2,447.91 L1133.5,446.68 L1135.9,445.47 L1138.2,444.26 L1140.6,443.07 L1142.9,441.89 L1145.3,440.72 L1147.6,439.56 L1150.0,438.41 L1152.3,437.28 L1154.6,436.15 L1157.0,435.04 L1159.3,433.93 L1161.7,432.84 L1164.0,431.75 L1166.4,430.67 L1168.7,429.60 L1171.1,428.54 L1173.4,427.49 L1175.8,426.45 L1178.1,425.42 L1180.5,424.39 L1182.8,423.37 L1185.2,422.36 L1187.5,421.36 L1189.8,420.36 L1192.2,419.38 L1194.5,418.39 L1196.9,417.42 L1199.2,416.45 L1201.6,415.49 L1203.9,414.54 L1206.3,413.59 L1208.6,412.65 L1211.0,411.72 L1213.3,410.79 L1215.7,409.87 L1218.0,408.95 L1220.3,408.04 L1222.7,407.14 L1225.0,406.24 L1227.4,405.35 L1229.7,404.46 L1232.1,403.58 L1234.4,402.70 L1236.8,401.83 L1239.1,400.96 L1241.5,400.10 L1243.8,399.24 L1246.2,398.39 L1248.5,397.55 L1250.9,396.70 L1253.2,395.87 L1255.5,395.03 L1257.9,394.21 L1260.2,393.38 L1262.6,392.56 L1264.9,391.75 L1267.3,390.94 L1269.6,390.13 L1272.0,389.33 L1274.3,388.54 L1276.7,387.74 L1279.0,386.96 L1281.4,386.17 L1283.7,385.40 L1286.1,384.62 L1288.4,383.85 L1290.7,383.09 L1293.1,382.33 L1295.4,381.57 L1297.8,380.82 L1300.1,380.07 L1302.5,379.33 L1304.8,378.59 L1307.2,377.85 L1309.5,377.13 L1311.9,376.40 L1314.2,375.68 L1316.6,374.96 L1318.9,374.25 L1321.3,373.54 L1323.6,372.84 L1325.9,372.14 L1328.3,371.44 L1330.6,370.75 L1333.0,370.06 L1335.3,369.38 L1337.7,368.70 L1340.0,368.03 L1342.4,367.35 L1344.7,366.69 L1347.1,366.03 L1349.4,365.37 L1351.8,364.71 L1354.1,364.06 L1356.5,363.42 L1358.8,362.77 L1361.1,362.14 L1363.5,361.51 L1365.8,360.88 L1368.2,360.26 L1370.5,359.65 L1372.9,359.04 L1375.2,358.44 L1377.6,357.85 L1379.9,357.26 L1382.3,356.68 L1384.6,356.10 L1387.0,355.54 L1389.3,354.98 L1391.7,354.43 L1394.0,353.88 L1396.3,353.35 L1398.7,352.82 L1401.0,352.30 L1403.4,351.79 L1405.7,351.28 L1408.1,350.79 L1410.4,350.30 L1412.8,349.82 L1415.1,349.35 L1417.5,348.89 L1419.8,348.43 L1422.2,347.98 L1424.5,347.54 L1426.9,347.11 L1429.2,346.68 L1431.5,346.27 L1433.9,345.86 L1436.2,345.45 L1438.6,345.06 L1440.9,344.67 L1443.3,344.29 L1445.6,343.91 L1448.0,343.54 L1450.3,343.18 L1452.7,342.83 L1455.0,342.48 L1457.4,342.14 L1459.7,341.81 L1462.1,341.49 L1464.4,341.17 L1466.7,340.85 L1469.1,340.54 L1471.4,340.24 L1473.8,339.95 L1476.1,339.66 L1478.5,339.37 L1480.8,339.09 L1483.2,338.82 L1485.5,338.55 L1487.9,338.29 L1490.2,338.03 L1492.6,337.78 L1494.9,337.53 L1497.3,337.29 L1499.6,337.05 L1501.9,336.82 L1504.3,336.59 L1506.6,336.37 L1509.0,336.15 L1511.3,335.93 L1513.7,335.72 L1516.0,335.51 L1518.4,335.31 L1520.7,335.11 L1523.1,334.92 L1525.4,334.73 L1527.8,334.54 L1530.1,334.36 L1532.4,334.18 L1534.8,334.00 L1537.1,333.83 L1539.5,333.66 L1541.8,333.49 L1544.2,333.33 L1546.5,333.17 L1548.9,333.02 L1551.2,332.86 L1553.6,332.71 L1555.9,332.57 L1558.3,332.42 L1560.6,332.28 L1563.0,332.15 L1565.3,332.01 L1567.6,331.88 L1570.0,331.75 L1572.3,331.62 L1574.7,331.50 L1577.0,331.38 L1579.4,331.26 L1581.7,331.14 L1584.1,331.03 L1586.4,330.92 L1588.8,330.81 L1591.1,330.70 L1593.5,330.59 L1595.8,330.49 L1598.2,330.39 L1600.5,330.29 L1602.8,330.20 L1605.2,330.10 L1607.5,330.01 L1609.9,329.92 L1612.2,329.83 L1614.6,329.75 L1616.9,329.66 L1619.3,329.58 L1621.6,329.50 L1624.0,329.42 L1626.3,329.34 L1628.7,329.27 L1631.0,329.19 L1633.4,329.12 L1635.7,329.05 L1638.0,328.98 L1640.4,328.91 L1642.7,328.85 L1645.1,328.78 L1647.4,328.72 L1649.8,328.66 L1652.1,328.60 L1654.5,328.54 L1656.8,328.48 L1659.2,328.43 L1661.5,328.37 L1663.9,328.32 L1666.2,328.27 L1668.6,328.21 L1670.9,328.17 L1673.2,328.12 L1675.6,328.07 L1677.9,328.02 L1680.3,327.98 L1682.6,327.93 L1685.0,327.89 L1687.3,327.85 L1689.7,327.81 L1692.0,327.77 L1694.4,327.73 L1696.7,327.69 L1699.1,327.65 L1701.4,327.62 L1703.8,327.58 L1706.1,327.55 L1708.4,327.51 L1710.8,327.48 L1713.1,327.45 L1715.5,327.42 L1717.8,327.39 L1720.2,327.36 L1722.5,327.33 L1724.9,327.30 L1727.2,327.27 L1729.6,327.25 L1731.9,327.22 L1734.3,327.20 L1736.6,327.17 L1739.0,327.15 L1741.3,327.13 L1743.6,327.10 L1746.0,327.08 L1748.3,327.06 L1750.7,327.04 L1753.0,327.02 L1755.4,327.00 L1757.7,326.98 L1760.1,326.96 L1762.4,326.94 L1764.8,326.93 L1767.1,326.91 L1769.5,326.89 L1771.8,326.88 L1774.2,326.86 L1776.5,326.85 L1778.8,326.83 L1781.2,326.82 L1783.5,326.80 L1785.9,326.79 L1788.2,326.78 L1790.6,326.77 L1792.9,326.75 L1795.3,326.74 L1797.6,326.73 L1800.0,326.72 L1802.3,326.71 L1804.7,326.70 L1807.0,326.69 L1809.4,326.68 L1811.7,326.67 L1814.0,326.66 L1816.4,326.65 L1818.7,326.64 L1821.1,326.63 L1823.4,326.62 L1825.8,326.62 L1828.1,326.61 L1830.5,326.60 L1832.8,326.59 L1835.2,326.59 L1837.5,326.58 L1839.9,326.57 L1842.2,326.57 L1844.5,326.56 L1846.9,326.55 L1849.2,326.55 L1851.6,326.54 L1853.9,326.54 L1856.3,326.53 L1858.6,326.53 L1861.0,326.52 L1863.3,326.52 L1865.7,326.51 L1868.0,326.51 L1870.4,326.50 L1872.7,326.50 L1875.1,326.49 L1877.4,326.49 L1879.7,326.48 L1882.1,326.48 L1884.4,326.47 L1886.8,326.47 L1889.1,326.47 L1891.5,326.46 L1893.8,326.46 L1896.2,326.45 L1898.5,326.45 L1900.9,326.45 L1903.2,326.44 L1905.6,326.44 L1907.9,326.43 L1910.3,326.43 L1912.6,326.43 L1914.9,326.42 L1917.3,326.42 L1919.6,326.42 L1922.0,326.41 L1924.3,326.41 L1926.7,326.40 L1929.0,326.40 L1931.4,326.40 L1933.7,326.39 L1936.1,326.39 L1938.4,326.39 L1940.8,326.38 L1943.1,326.38 L1945.5,326.37 L1947.8,326.37 L1950.1,326.37 L1952.5,326.36 L1954.8,326.36 L1957.2,326.35 L1959.5,326.35 L1961.9,326.34 L1964.2,326.34 L1966.6,326.33 L1968.9,326.33 L1971.3,326.33 L1973.6,326.32 L1976.0,326.32 L1978.3,326.31 L1980.7,326.31 L1983.0,326.30" fill="none" stroke="#DFC27D" stroke-width="6.3" stroke-linejoin="round"/>
<path d="M1034.8,226.1V237.9" stroke="#f00" stroke-width="1.2" stroke-dasharray="3,2.5"/>
<circle cx="1034.8" cy="226.1" r="4" fill="#ff2a0d"/><circle cx="1034.8" cy="237.9" r="4" fill="#ff2a0d"/>
<path d="M1038.4,522V550" stroke="#f00" stroke-width="1.2" stroke-dasharray="5.5,3.4"/>
<circle cx="1038.4" cy="516.6" r="4.1" fill="#ff2a0d"/><circle cx="1038.4" cy="554.8" r="4.1" fill="#ff2a0d"/>
<text x="1004.7" y="68" font-size="68" font-weight="bold" letter-spacing="5.4" fill="#000">***</text>
<text x="1004.7" y="376" font-size="68" font-weight="bold" letter-spacing="5.4" fill="#000">***</text>
<rect x="956.6" y="5.6" width="1027.4" height="305.8" fill="none" stroke="#000" stroke-width="2.1"/>
<rect x="956.6" y="313.3" width="1027.4" height="305.8" fill="none" stroke="#000" stroke-width="2.1"/>
<rect x="1985.9" y="5.6" width="60.2" height="305.8" fill="#fff" stroke="#000" stroke-width="2.1"/>
<rect x="1985.9" y="313.3" width="60.2" height="305.8" fill="#fff" stroke="#000" stroke-width="2.1"/>
<text transform="translate(2004.0,159.1) rotate(90)" font-size="34.7" text-anchor="middle" textLength="247.6" lengthAdjust="spacingAndGlyphs" fill="#000">Gluteofemoral fat</text>
<text transform="translate(2004.0,466.2) rotate(90)" font-size="34.7" text-anchor="middle" textLength="165.6" lengthAdjust="spacingAndGlyphs" fill="#000">Gonadal fat</text>
<path d="M945.2,298.4H955.6" stroke="#2a2a2a" stroke-width="3"/>
<text transform="translate(937.6,309.0) scale(0.973,1)" font-size="29.8" text-anchor="end" fill="#000">0.00</text>
<path d="M945.2,228.5H955.6" stroke="#2a2a2a" stroke-width="3"/>
<text transform="translate(937.6,239.1) scale(0.973,1)" font-size="29.8" text-anchor="end" fill="#000">0.25</text>
<path d="M945.2,158.6H955.6" stroke="#2a2a2a" stroke-width="3"/>
<text transform="translate(937.6,169.2) scale(0.973,1)" font-size="29.8" text-anchor="end" fill="#000">0.50</text>
<path d="M945.2,88.7H955.6" stroke="#2a2a2a" stroke-width="3"/>
<text transform="translate(937.6,99.3) scale(0.973,1)" font-size="29.8" text-anchor="end" fill="#000">0.75</text>
<path d="M945.2,18.8H955.6" stroke="#2a2a2a" stroke-width="3"/>
<text transform="translate(937.6,29.4) scale(0.973,1)" font-size="29.8" text-anchor="end" fill="#000">1.00</text>
<path d="M945.2,606.1H955.6" stroke="#2a2a2a" stroke-width="3"/>
<text transform="translate(937.6,616.8) scale(0.973,1)" font-size="29.8" text-anchor="end" fill="#000">0.00</text>
<path d="M945.2,536.2H955.6" stroke="#2a2a2a" stroke-width="3"/>
<text transform="translate(937.6,546.9) scale(0.973,1)" font-size="29.8" text-anchor="end" fill="#000">0.25</text>
<path d="M945.2,466.3H955.6" stroke="#2a2a2a" stroke-width="3"/>
<text transform="translate(937.6,476.9) scale(0.973,1)" font-size="29.8" text-anchor="end" fill="#000">0.50</text>
<path d="M945.2,396.4H955.6" stroke="#2a2a2a" stroke-width="3"/>
<text transform="translate(937.6,407.0) scale(0.973,1)" font-size="29.8" text-anchor="end" fill="#000">0.75</text>
<path d="M945.2,326.5H955.6" stroke="#2a2a2a" stroke-width="3"/>
<text transform="translate(937.6,337.1) scale(0.973,1)" font-size="29.8" text-anchor="end" fill="#000">1.00</text>
<path d="M1001.9,620.0V630.0" stroke="#2a2a2a" stroke-width="3"/>
<text transform="translate(1001.9,659.4) scale(0.973,1)" font-size="29.8" text-anchor="middle" fill="#000">0</text>
<path d="M1237.3,620.0V630.0" stroke="#2a2a2a" stroke-width="3"/>
<text transform="translate(1237.3,659.4) scale(0.973,1)" font-size="29.8" text-anchor="middle" fill="#000">25000</text>
<path d="M1472.8,620.0V630.0" stroke="#2a2a2a" stroke-width="3"/>
<text transform="translate(1472.8,659.4) scale(0.973,1)" font-size="29.8" text-anchor="middle" fill="#000">50000</text>
<path d="M1708.2,620.0V630.0" stroke="#2a2a2a" stroke-width="3"/>
<text transform="translate(1708.2,659.4) scale(0.973,1)" font-size="29.8" text-anchor="middle" fill="#000">75000</text>
<path d="M1943.6,620.0V630.0" stroke="#2a2a2a" stroke-width="3"/>
<text transform="translate(1943.6,659.4) scale(0.973,1)" font-size="29.8" text-anchor="middle" fill="#000">100000</text>
<text transform="translate(1470.5,696.9) scale(0.973,1)" font-size="29.8" text-anchor="middle" fill="#000">Cell area (pixels)</text>
<text transform="translate(862.8,312.6) rotate(-90) scale(0.973,1)" font-size="29.8" text-anchor="middle" fill="#000">Cumulative proportion of cells</text>
<rect x="1461.3" y="125.9" width="37.3" height="103.4" fill="#fff" stroke="#4d4d4d" stroke-width="1.2"/>
<path d="M1456.9,224.7H1461.3" stroke="#333" stroke-width="1.3"/>
<text x="1452.6" y="233.4" font-size="24.3" text-anchor="end" fill="#000">0</text>
<path d="M1456.9,193.1H1461.3" stroke="#333" stroke-width="1.3"/>
<text x="1452.6" y="201.8" font-size="24.3" text-anchor="end" fill="#000">100</text>
<path d="M1456.9,161.5H1461.3" stroke="#333" stroke-width="1.3"/>
<text x="1452.6" y="170.2" font-size="24.3" text-anchor="end" fill="#000">200</text>
<path d="M1456.9,129.9H1461.3" stroke="#333" stroke-width="1.3"/>
<text x="1452.6" y="138.6" font-size="24.3" text-anchor="end" fill="#000">300</text>
<rect x="1465.5" y="147.3" width="13.9" height="77.4" fill="#EBD29E" stroke="#111" stroke-width="1.1"/>
<rect x="1479.4" y="146.5" width="14.5" height="78.2" fill="#9ADAD0" stroke="#111" stroke-width="1.1"/>
<path d="M1472.4,144.2V150.4M1471.1000000000001,144.2H1473.7M1471.1000000000001,150.4H1473.7" stroke="#111" stroke-width="0.9" fill="none"/>
<path d="M1486.7,143.3V149.7M1485.4,143.3H1488.0M1485.4,149.7H1488.0" stroke="#111" stroke-width="0.9" fill="none"/>
<text transform="translate(1395.6,178.2) rotate(-90)" font-size="25" text-anchor="middle" fill="#000">Total Number</text>
<rect x="1508.2" y="125.9" width="438.4" height="103.4" fill="#fff" stroke="#4d4d4d" stroke-width="1.2"/>
<path d="M1527.4,147.7 C1527.6,147.0 1527.8,144.6 1528.8,143.3 C1529.8,142.1 1532.1,140.4 1533.6,140.2 C1535.0,140.0 1536.1,141.1 1537.5,142.1 C1538.9,143.1 1540.1,144.8 1542.0,146.1 C1543.9,147.4 1546.5,148.7 1548.7,149.7 C1550.9,150.7 1553.2,151.5 1555.4,152.2 C1557.7,152.9 1559.9,153.4 1562.2,153.9 C1564.5,154.4 1566.8,154.6 1569.0,155.2 C1571.2,155.8 1573.4,156.6 1575.6,157.3 C1577.8,158.0 1580.2,158.7 1582.4,159.3 C1584.7,159.9 1586.8,160.4 1589.1,161.0 C1591.3,161.6 1594.1,162.2 1595.9,162.7 C1597.7,163.1 1598.5,163.4 1600.0,163.7 C1601.5,164.0 1602.4,164.1 1605.0,164.6 C1607.6,165.1 1611.2,166.0 1615.6,166.8 C1620.0,167.6 1626.1,168.7 1631.3,169.5 C1636.5,170.3 1641.7,170.9 1646.9,171.5 C1652.1,172.1 1657.3,172.7 1662.5,173.2 C1667.7,173.7 1673.0,174.0 1678.2,174.4 C1683.4,174.8 1688.6,175.1 1693.8,175.4 C1699.0,175.7 1704.3,176.0 1709.5,176.2 C1714.7,176.4 1719.9,176.6 1725.1,176.8 C1730.3,177.0 1734.9,177.1 1740.7,177.2 C1746.5,177.4 1729.0,177.4 1760.0,177.4 C1791.0,177.5 1898.9,177.5 1926.7,177.5 L1926.7,177.5 C1898.9,177.5 1791.0,177.5 1760.0,177.6 C1729.0,177.6 1746.5,177.6 1740.7,177.8 C1734.9,177.9 1730.3,178.0 1725.1,178.2 C1719.9,178.4 1714.7,178.6 1709.5,178.8 C1704.3,179.0 1699.0,179.3 1693.8,179.6 C1688.6,179.9 1683.4,180.2 1678.2,180.6 C1673.0,181.0 1667.7,181.3 1662.5,181.8 C1657.3,182.3 1652.1,182.9 1646.9,183.5 C1641.7,184.1 1636.5,184.7 1631.3,185.5 C1626.1,186.3 1620.0,187.4 1615.6,188.2 C1611.2,189.0 1607.6,189.9 1605.0,190.4 C1602.4,190.9 1601.5,191.0 1600.0,191.3 C1598.5,191.6 1597.7,191.9 1595.9,192.3 C1594.1,192.8 1591.3,193.4 1589.1,194.0 C1586.8,194.6 1584.7,195.1 1582.4,195.7 C1580.2,196.3 1577.8,197.0 1575.6,197.7 C1573.4,198.4 1571.2,199.2 1569.0,199.8 C1566.8,200.4 1564.5,200.6 1562.2,201.1 C1559.9,201.6 1557.7,202.1 1555.4,202.8 C1553.2,203.5 1550.9,204.3 1548.7,205.3 C1546.5,206.3 1543.9,207.6 1542.0,208.9 C1540.1,210.2 1538.9,211.9 1537.5,212.9 C1536.1,213.9 1535.0,215.0 1533.6,214.8 C1532.1,214.6 1529.8,212.9 1528.8,211.7 C1527.8,210.4 1527.6,208.0 1527.4,207.3 Z" fill="#DFC27D" fill-opacity="0.3" stroke="#1f1f1f" stroke-width="1.3" stroke-linejoin="round"/>
<path d="M1569.4,155.3V199.7" stroke="#1f1f1f" stroke-width="1.4"/>
<path d="M1527.4,149.2 C1527.7,148.4 1528.3,145.9 1529.4,144.5 C1530.5,143.1 1532.5,141.2 1533.9,140.8 C1535.3,140.4 1536.5,141.6 1537.8,142.2 C1539.1,142.8 1540.2,143.3 1542.0,144.1 C1543.8,144.9 1546.5,146.0 1548.7,146.8 C1550.9,147.7 1553.2,148.4 1555.4,149.2 C1557.7,150.0 1559.8,150.9 1562.2,151.8 C1564.6,152.8 1567.8,154.0 1570.0,154.9 C1572.2,155.8 1573.5,156.6 1575.6,157.3 C1577.7,158.0 1580.2,158.7 1582.4,159.3 C1584.7,159.9 1586.8,160.4 1589.1,161.0 C1591.3,161.6 1594.1,162.2 1595.9,162.7 C1597.7,163.1 1598.5,163.4 1600.0,163.7 C1601.5,164.0 1602.4,164.1 1605.0,164.6 C1607.6,165.1 1611.2,166.0 1615.6,166.8 C1620.0,167.6 1626.1,168.7 1631.3,169.5 C1636.5,170.3 1641.7,170.9 1646.9,171.5 C1652.1,172.1 1657.3,172.7 1662.5,173.2 C1667.7,173.7 1673.0,174.0 1678.2,174.4 C1683.4,174.8 1688.6,175.1 1693.8,175.4 C1699.0,175.7 1704.3,176.0 1709.5,176.2 C1714.7,176.4 1719.9,176.6 1725.1,176.8 C1730.3,177.0 1734.9,177.1 1740.7,177.2 C1746.5,177.4 1729.0,177.4 1760.0,177.4 C1791.0,177.5 1898.9,177.5 1926.7,177.5 L1926.7,177.5 C1898.9,177.5 1791.0,177.5 1760.0,177.6 C1729.0,177.6 1746.5,177.6 1740.7,177.8 C1734.9,177.9 1730.3,178.0 1725.1,178.2 C1719.9,178.4 1714.7,178.6 1709.5,178.8 C1704.3,179.0 1699.0,179.3 1693.8,179.6 C1688.6,179.9 1683.4,180.2 1678.2,180.6 C1673.0,181.0 1667.7,181.3 1662.5,181.8 C1657.3,182.3 1652.1,182.9 1646.9,183.5 C1641.7,184.1 1636.5,184.7 1631.3,185.5 C1626.1,186.3 1620.0,187.4 1615.6,188.2 C1611.2,189.0 1607.6,189.9 1605.0,190.4 C1602.4,190.9 1601.5,191.0 1600.0,191.3 C1598.5,191.6 1597.7,191.9 1595.9,192.3 C1594.1,192.8 1591.3,193.4 1589.1,194.0 C1586.8,194.6 1584.7,195.1 1582.4,195.7 C1580.2,196.3 1577.7,197.0 1575.6,197.7 C1573.5,198.4 1572.2,199.2 1570.0,200.1 C1567.8,201.0 1564.6,202.2 1562.2,203.2 C1559.8,204.1 1557.7,205.0 1555.4,205.8 C1553.2,206.6 1550.9,207.3 1548.7,208.2 C1546.5,209.0 1543.8,210.1 1542.0,210.9 C1540.2,211.7 1539.1,212.2 1537.8,212.8 C1536.5,213.4 1535.3,214.6 1533.9,214.2 C1532.5,213.8 1530.5,211.9 1529.4,210.5 C1528.3,209.1 1527.7,206.6 1527.4,205.8 Z" fill="#80CDC1" fill-opacity="0.3" stroke="#1f1f1f" stroke-width="1.3" stroke-linejoin="round"/>
<path d="M1570.6,155.2V199.8" stroke="#1f1f1f" stroke-width="1.6"/>
<path d="M1526.4,229.3V233.7" stroke="#333" stroke-width="1.3"/>
<text x="1526.4" y="255.0" font-size="24.3" text-anchor="middle" fill="#000">0</text>
<path d="M1628.1,229.3V233.7" stroke="#333" stroke-width="1.3"/>
<text x="1628.1" y="255.0" font-size="24.3" text-anchor="middle" fill="#000">25000</text>
<path d="M1729.8,229.3V233.7" stroke="#333" stroke-width="1.3"/>
<text x="1729.8" y="255.0" font-size="24.3" text-anchor="middle" fill="#000">50000</text>
<path d="M1831.6,229.3V233.7" stroke="#333" stroke-width="1.3"/>
<text x="1831.6" y="255.0" font-size="24.3" text-anchor="middle" fill="#000">75000</text>
<path d="M1933.3,229.3V233.7" stroke="#333" stroke-width="1.3"/>
<text x="1933.3" y="255.0" font-size="24.3" text-anchor="middle" fill="#000">100000</text>
<text x="1727.8" y="289.2" font-size="25" text-anchor="middle" fill="#000">Cell area (pixels)</text>
<rect x="1461.3" y="436.9" width="37.3" height="103.4" fill="#fff" stroke="#4d4d4d" stroke-width="1.2"/>
<path d="M1456.9,535.7H1461.3" stroke="#333" stroke-width="1.3"/>
<text x="1452.6" y="544.4" font-size="24.3" text-anchor="end" fill="#000">0</text>
<path d="M1456.9,504.1H1461.3" stroke="#333" stroke-width="1.3"/>
<text x="1452.6" y="512.8" font-size="24.3" text-anchor="end" fill="#000">100</text>
<path d="M1456.9,472.5H1461.3" stroke="#333" stroke-width="1.3"/>
<text x="1452.6" y="481.2" font-size="24.3" text-anchor="end" fill="#000">200</text>
<path d="M1456.9,440.9H1461.3" stroke="#333" stroke-width="1.3"/>
<text x="1452.6" y="449.6" font-size="24.3" text-anchor="end" fill="#000">300</text>
<rect x="1465.5" y="480.7" width="13.9" height="55.0" fill="#EBD29E" stroke="#111" stroke-width="1.1"/>
<rect x="1479.4" y="481.7" width="14.5" height="54.0" fill="#9ADAD0" stroke="#111" stroke-width="1.1"/>
<path d="M1472.4,477.4V484.0M1471.1000000000001,477.4H1473.7M1471.1000000000001,484.0H1473.7" stroke="#111" stroke-width="0.9" fill="none"/>
<path d="M1486.7,479.5V483.9M1485.4,479.5H1488.0M1485.4,483.9H1488.0" stroke="#111" stroke-width="0.9" fill="none"/>
<text transform="translate(1395.6,489.2) rotate(-90)" font-size="25" text-anchor="middle" fill="#000">Total Number</text>
<rect x="1508.2" y="436.9" width="438.4" height="103.4" fill="#fff" stroke="#4d4d4d" stroke-width="1.2"/>
<path d="M1527.3,460.5 C1527.7,460.0 1528.5,458.2 1529.8,457.4 C1531.0,456.6 1533.1,455.8 1534.8,455.9 C1536.5,456.0 1538.1,457.0 1539.7,458.0 C1541.3,459.0 1542.5,460.1 1544.6,461.7 C1546.6,463.3 1549.7,466.3 1552.0,467.9 C1554.3,469.4 1556.1,470.1 1558.2,471.0 C1560.3,471.9 1562.3,472.7 1564.4,473.4 C1566.5,474.1 1567.7,474.4 1570.6,475.0 C1573.5,475.6 1578.6,476.5 1581.7,476.9 C1584.8,477.3 1586.3,477.4 1589.1,477.6 C1591.9,477.9 1594.2,478.0 1598.3,478.4 C1602.4,478.8 1609.3,479.4 1613.8,479.7 C1618.2,480.0 1620.4,480.2 1625.0,480.4 C1629.6,480.6 1635.2,480.6 1641.5,480.8 C1647.8,481.0 1657.6,481.2 1663.0,481.3 C1668.4,481.4 1670.1,481.4 1673.7,481.6 C1677.3,481.8 1681.0,482.1 1684.5,482.3 C1688.0,482.5 1691.4,482.7 1695.0,482.9 C1698.6,483.1 1700.6,483.3 1706.0,483.6 C1711.4,483.9 1720.3,484.4 1727.5,484.8 C1734.7,485.2 1741.8,485.6 1749.0,485.9 C1756.2,486.2 1763.3,486.6 1770.5,486.8 C1777.7,487.1 1784.8,487.2 1792.0,487.4 C1799.2,487.6 1805.5,487.8 1813.5,488.0 C1821.5,488.2 1821.0,488.3 1840.0,488.4 C1859.0,488.5 1912.8,488.5 1927.4,488.5 L1927.4,488.5 C1912.8,488.5 1859.0,488.5 1840.0,488.6 C1821.0,488.7 1821.5,488.8 1813.5,489.0 C1805.5,489.2 1799.2,489.4 1792.0,489.6 C1784.8,489.8 1777.7,489.9 1770.5,490.2 C1763.3,490.4 1756.2,490.8 1749.0,491.1 C1741.8,491.4 1734.7,491.8 1727.5,492.2 C1720.3,492.6 1711.4,493.1 1706.0,493.4 C1700.6,493.7 1698.6,493.9 1695.0,494.1 C1691.4,494.3 1688.0,494.5 1684.5,494.7 C1681.0,494.9 1677.3,495.2 1673.7,495.4 C1670.1,495.6 1668.4,495.6 1663.0,495.7 C1657.6,495.8 1647.8,496.0 1641.5,496.2 C1635.2,496.4 1629.6,496.4 1625.0,496.6 C1620.4,496.8 1618.2,497.0 1613.8,497.3 C1609.3,497.6 1602.4,498.2 1598.3,498.6 C1594.2,499.0 1591.9,499.1 1589.1,499.4 C1586.3,499.6 1584.8,499.7 1581.7,500.1 C1578.6,500.5 1573.5,501.4 1570.6,502.0 C1567.7,502.6 1566.5,502.9 1564.4,503.6 C1562.3,504.3 1560.3,505.1 1558.2,506.0 C1556.1,506.9 1554.3,507.6 1552.0,509.1 C1549.7,510.7 1546.6,513.6 1544.6,515.3 C1542.5,516.9 1541.3,518.0 1539.7,519.0 C1538.1,520.0 1536.5,521.0 1534.8,521.1 C1533.1,521.2 1531.0,520.4 1529.8,519.6 C1528.5,518.8 1527.7,517.0 1527.3,516.5 Z" fill="#DFC27D" fill-opacity="0.3" stroke="#1f1f1f" stroke-width="1.3" stroke-linejoin="round"/>
<path d="M1581.7,476.9V500.1" stroke="#1f1f1f" stroke-width="1.4"/>
<path d="M1527.3,466.6 C1527.9,466.1 1529.3,464.4 1531.0,463.6 C1532.7,462.8 1534.9,462.0 1537.2,461.7 C1539.5,461.4 1542.1,461.3 1544.6,461.7 C1547.1,462.1 1549.7,463.5 1552.0,464.2 C1554.3,464.9 1556.1,465.4 1558.2,466.0 C1560.3,466.6 1562.3,467.3 1564.4,467.9 C1566.5,468.5 1568.5,469.0 1570.6,469.5 C1572.6,470.0 1574.7,470.3 1576.7,470.7 C1578.8,471.1 1580.8,471.4 1582.9,471.7 C1585.0,472.0 1586.5,472.3 1589.1,472.6 C1591.7,472.9 1595.2,473.3 1598.3,473.4 C1601.4,473.5 1605.0,473.3 1607.6,473.4 C1610.2,473.4 1611.7,473.6 1613.8,473.7 C1615.9,473.8 1618.1,473.8 1620.0,474.0 C1621.9,474.2 1621.4,474.3 1625.0,474.7 C1628.6,475.1 1635.2,475.7 1641.5,476.5 C1647.8,477.3 1655.8,478.6 1663.0,479.5 C1670.2,480.4 1677.3,481.1 1684.5,481.8 C1691.7,482.5 1698.8,483.1 1706.0,483.6 C1713.2,484.1 1720.3,484.4 1727.5,484.8 C1734.7,485.2 1741.8,485.6 1749.0,485.9 C1756.2,486.2 1763.3,486.6 1770.5,486.8 C1777.7,487.1 1784.8,487.2 1792.0,487.4 C1799.2,487.6 1805.5,487.8 1813.5,488.0 C1821.5,488.2 1821.0,488.3 1840.0,488.4 C1859.0,488.5 1912.8,488.5 1927.4,488.5 L1927.4,488.5 C1912.8,488.5 1859.0,488.5 1840.0,488.6 C1821.0,488.7 1821.5,488.8 1813.5,489.0 C1805.5,489.2 1799.2,489.4 1792.0,489.6 C1784.8,489.8 1777.7,489.9 1770.5,490.2 C1763.3,490.4 1756.2,490.8 1749.0,491.1 C1741.8,491.4 1734.7,491.8 1727.5,492.2 C1720.3,492.6 1713.2,492.9 1706.0,493.4 C1698.8,493.9 1691.7,494.5 1684.5,495.2 C1677.3,495.9 1670.2,496.6 1663.0,497.5 C1655.8,498.4 1647.8,499.7 1641.5,500.5 C1635.2,501.3 1628.6,501.9 1625.0,502.3 C1621.4,502.7 1621.9,502.8 1620.0,503.0 C1618.1,503.2 1615.9,503.2 1613.8,503.3 C1611.7,503.4 1610.2,503.6 1607.6,503.6 C1605.0,503.7 1601.4,503.5 1598.3,503.6 C1595.2,503.7 1591.7,504.1 1589.1,504.4 C1586.5,504.7 1585.0,505.0 1582.9,505.3 C1580.8,505.6 1578.8,505.9 1576.7,506.3 C1574.7,506.7 1572.6,507.0 1570.6,507.5 C1568.5,508.0 1566.5,508.5 1564.4,509.1 C1562.3,509.7 1560.3,510.4 1558.2,511.0 C1556.1,511.6 1554.3,512.1 1552.0,512.8 C1549.7,513.5 1547.1,514.9 1544.6,515.3 C1542.1,515.7 1539.5,515.6 1537.2,515.3 C1534.9,515.0 1532.7,514.2 1531.0,513.4 C1529.3,512.6 1527.9,510.9 1527.3,510.4 Z" fill="#80CDC1" fill-opacity="0.3" stroke="#1f1f1f" stroke-width="1.3" stroke-linejoin="round"/>
<path d="M1598.3,473.4V503.6" stroke="#1f1f1f" stroke-width="1.6"/>
<path d="M1526.4,540.3V544.7" stroke="#333" stroke-width="1.3"/>
<text x="1526.4" y="566.0" font-size="24.3" text-anchor="middle" fill="#000">0</text>
<path d="M1627.1,540.3V544.7" stroke="#333" stroke-width="1.3"/>
<text x="1627.1" y="566.0" font-size="24.3" text-anchor="middle" fill="#000">25000</text>
<path d="M1727.7,540.3V544.7" stroke="#333" stroke-width="1.3"/>
<text x="1727.7" y="566.0" font-size="24.3" text-anchor="middle" fill="#000">50000</text>
<path d="M1828.3,540.3V544.7" stroke="#333" stroke-width="1.3"/>
<text x="1828.3" y="566.0" font-size="24.3" text-anchor="middle" fill="#000">75000</text>
<path d="M1929.0,540.3V544.7" stroke="#333" stroke-width="1.3"/>
<text x="1929.0" y="566.0" font-size="24.3" text-anchor="middle" fill="#000">100000</text>
<text x="1727.8" y="600.2" font-size="25" text-anchor="middle" fill="#000">Cell area (pixels)</text>
</g>
</svg>
</body></html>
